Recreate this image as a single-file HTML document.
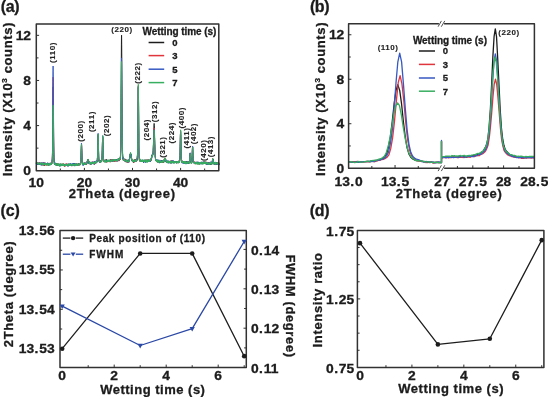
<!DOCTYPE html>
<html><head><meta charset="utf-8"><style>
html,body{margin:0;padding:0;background:#fff;width:548px;height:397px;overflow:hidden}
svg{display:block}
text{font-family:"Liberation Sans",sans-serif;font-weight:bold;stroke:#1b1b1b;stroke-width:0.3px}
</style></head><body>
<svg width="548" height="397" viewBox="0 0 548 397">
<defs><filter id="bl" x="0" y="0" width="100%" height="100%"><feGaussianBlur stdDeviation="0.45"/></filter></defs>
<rect width="548" height="397" fill="#fff"/>
<g filter="url(#bl)">
<rect width="548" height="397" fill="#fff"/>
<text x="0.70" y="12.30" font-size="16" letter-spacing="-0.33" text-anchor="start" fill="#1b1b1b">(a)</text>
<polyline points="36.3,163.4 36.4,162.8 36.5,164.0 36.6,162.9 36.7,163.7 36.8,163.7 36.9,162.4 37.0,163.4 37.1,163.6 37.2,163.1 37.3,162.9 37.4,163.6 37.5,163.2 37.6,164.1 37.6,163.8 37.7,163.8 37.8,164.3 37.9,164.4 38.0,164.5 38.1,163.7 38.2,163.7 38.3,163.8 38.4,163.6 38.5,164.4 38.6,163.7 38.7,163.5 38.8,163.2 38.9,164.1 39.0,163.9 39.1,164.8 39.2,164.0 39.3,164.9 39.4,164.5 39.5,163.1 39.6,164.9 39.7,163.3 39.8,163.5 39.9,163.9 40.0,163.5 40.1,163.4 40.1,163.1 40.2,163.9 40.3,164.1 40.4,164.1 40.5,164.3 40.6,163.8 40.7,164.2 40.8,163.2 40.9,164.8 41.0,164.4 41.1,164.3 41.2,165.0 41.3,162.7 41.4,165.2 41.5,164.0 41.6,164.1 41.7,162.9 41.8,165.0 41.9,163.2 42.0,164.3 42.1,164.0 42.2,164.2 42.3,163.5 42.4,164.5 42.5,163.9 42.6,163.7 42.6,162.9 42.7,165.3 42.8,163.1 42.9,163.4 43.0,164.2 43.1,163.8 43.2,164.2 43.3,163.0 43.4,163.8 43.5,164.1 43.6,164.1 43.7,164.1 43.8,164.1 43.9,164.5 44.0,162.8 44.1,165.1 44.2,166.0 44.3,164.1 44.4,164.1 44.5,163.8 44.6,164.1 44.7,164.1 44.8,163.8 44.9,163.5 45.0,164.3 45.1,164.3 45.2,163.0 45.2,163.8 45.3,164.6 45.4,162.8 45.5,163.6 45.6,164.4 45.7,164.8 45.8,163.9 45.9,164.6 46.0,164.7 46.1,164.8 46.2,164.4 46.3,163.5 46.4,164.4 46.5,164.9 46.6,163.8 46.7,164.1 46.8,163.7 46.9,163.5 47.0,164.2 47.1,164.2 47.2,164.2 47.3,164.8 47.4,163.8 47.5,163.4 47.6,164.1 47.7,164.3 47.7,164.3 47.8,164.6 47.9,164.6 48.0,164.4 48.1,164.7 48.2,164.4 48.3,165.1 48.4,164.0 48.5,164.2 48.6,164.8 48.7,165.5 48.8,164.2 48.9,163.6 49.0,164.6 49.1,164.5 49.2,164.5 49.3,163.8 49.4,164.7 49.5,163.6 49.6,164.3 49.7,163.6 49.8,164.1 49.9,164.3 50.0,165.0 50.1,164.5 50.2,164.3 50.2,163.7 50.3,163.9 50.4,164.4 50.5,163.8 50.6,163.4 50.7,164.1 50.8,164.2 50.9,164.1 51.0,163.4 51.1,163.5 51.2,164.3 51.3,163.5 51.4,163.9 51.5,163.9 51.6,162.7 51.7,162.8 51.8,163.5 51.9,162.8 52.0,162.2 52.1,162.3 52.2,161.2 52.3,159.3 52.4,158.1 52.5,152.7 52.6,146.0 52.7,137.1 52.8,126.7 52.8,112.7 52.9,100.8 53.0,90.5 53.1,86.9 53.2,90.7 53.3,100.8 53.4,113.3 53.5,125.5 53.6,137.9 53.7,146.2 53.8,152.7 53.9,157.3 54.0,158.4 54.1,161.2 54.2,160.9 54.3,163.8 54.4,164.2 54.5,162.7 54.6,163.1 54.7,163.7 54.8,163.7 54.9,164.9 55.0,164.3 55.1,164.6 55.2,164.2 55.3,163.6 55.3,164.1 55.4,164.0 55.5,164.7 55.6,164.6 55.7,164.3 55.8,164.5 55.9,163.7 56.0,164.9 56.1,163.4 56.2,165.1 56.3,163.9 56.4,165.0 56.5,163.6 56.6,164.5 56.7,164.4 56.8,164.2 56.9,165.0 57.0,165.2 57.1,165.8 57.2,164.0 57.3,165.1 57.4,165.0 57.5,164.7 57.6,163.6 57.7,165.7 57.8,164.6 57.8,165.0 57.9,164.5 58.0,165.8 58.1,165.0 58.2,164.3 58.3,163.9 58.4,163.9 58.5,165.3 58.6,164.8 58.7,164.9 58.8,165.7 58.9,165.7 59.0,164.5 59.1,164.8 59.2,165.0 59.3,164.2 59.4,165.5 59.5,164.6 59.6,164.9 59.7,165.0 59.8,164.7 59.9,164.9 60.0,164.8 60.1,164.8 60.2,163.9 60.3,165.2 60.3,164.4 60.4,164.7 60.5,165.2 60.6,164.6 60.7,165.5 60.8,164.3 60.9,165.5 61.0,165.3 61.1,164.8 61.2,164.5 61.3,164.5 61.4,164.5 61.5,165.1 61.6,165.5 61.7,164.7 61.8,164.8 61.9,165.5 62.0,164.4 62.1,164.9 62.2,165.5 62.3,164.7 62.4,165.7 62.5,165.5 62.6,164.7 62.7,165.9 62.8,165.0 62.9,165.7 62.9,164.6 63.0,165.4 63.1,164.9 63.2,165.8 63.3,165.2 63.4,164.4 63.5,164.7 63.6,166.0 63.7,164.4 63.8,164.5 63.9,165.2 64.0,164.2 64.1,165.5 64.2,165.0 64.3,164.3 64.4,164.2 64.5,164.2 64.6,165.6 64.7,165.9 64.8,164.7 64.9,165.7 65.0,165.0 65.1,165.7 65.2,164.3 65.3,164.5 65.4,164.6 65.4,164.9 65.5,164.9 65.6,165.1 65.7,164.7 65.8,164.8 65.9,164.7 66.0,165.2 66.1,163.8 66.2,164.7 66.3,164.1 66.4,164.2 66.5,165.4 66.6,165.8 66.7,164.2 66.8,165.1 66.9,164.8 67.0,165.0 67.1,164.8 67.2,165.6 67.3,164.9 67.4,165.1 67.5,164.9 67.6,166.2 67.7,164.4 67.8,164.7 67.9,165.9 67.9,165.3 68.0,164.9 68.1,164.5 68.2,164.9 68.3,164.1 68.4,164.9 68.5,165.4 68.6,165.2 68.7,164.4 68.8,165.2 68.9,164.4 69.0,164.3 69.1,164.5 69.2,164.3 69.3,164.9 69.4,164.8 69.5,165.2 69.6,165.2 69.7,165.7 69.8,165.1 69.9,165.4 70.0,165.6 70.1,164.7 70.2,164.6 70.3,165.0 70.4,164.0 70.5,164.3 70.5,164.2 70.6,165.2 70.7,165.7 70.8,164.5 70.9,164.6 71.0,164.4 71.1,164.6 71.2,164.1 71.3,165.0 71.4,164.4 71.5,165.3 71.6,166.1 71.7,165.0 71.8,163.9 71.9,165.7 72.0,164.2 72.1,165.2 72.2,165.0 72.3,164.7 72.4,164.6 72.5,165.3 72.6,164.7 72.7,164.5 72.8,164.3 72.9,165.2 73.0,163.9 73.0,163.7 73.1,163.4 73.2,165.5 73.3,164.6 73.4,165.8 73.5,164.5 73.6,164.4 73.7,165.4 73.8,165.6 73.9,164.6 74.0,164.4 74.1,165.2 74.2,164.9 74.3,166.1 74.4,165.1 74.5,164.6 74.6,164.6 74.7,163.8 74.8,165.3 74.9,166.0 75.0,164.4 75.1,165.0 75.2,164.5 75.3,164.3 75.4,164.3 75.5,163.9 75.5,163.9 75.6,165.6 75.7,164.7 75.8,163.5 75.9,164.9 76.0,164.1 76.1,164.7 76.2,164.9 76.3,163.8 76.4,164.1 76.5,164.8 76.6,164.1 76.7,165.4 76.8,165.0 76.9,164.1 77.0,164.6 77.1,165.2 77.2,164.4 77.3,164.4 77.4,163.9 77.5,164.1 77.6,164.8 77.7,164.9 77.8,164.7 77.9,164.7 78.0,163.8 78.1,163.7 78.1,163.8 78.2,164.4 78.3,164.7 78.4,164.0 78.5,164.7 78.6,164.4 78.7,165.5 78.8,164.8 78.9,163.7 79.0,165.1 79.1,165.3 79.2,164.6 79.3,163.5 79.4,163.6 79.5,164.6 79.6,164.7 79.7,164.4 79.8,164.9 79.9,164.3 80.0,164.4 80.1,165.0 80.2,164.5 80.3,164.2 80.4,164.5 80.5,164.5 80.6,163.1 80.6,162.1 80.7,162.7 80.8,161.7 80.9,159.5 81.0,157.7 81.1,155.0 81.2,150.5 81.3,148.7 81.4,146.1 81.5,145.1 81.6,146.1 81.7,148.2 81.8,150.9 81.9,153.7 82.0,157.0 82.1,159.7 82.2,162.0 82.3,162.4 82.4,163.5 82.5,163.4 82.6,163.0 82.7,163.6 82.8,163.9 82.9,164.2 83.0,163.9 83.1,163.8 83.1,164.4 83.2,164.2 83.3,163.4 83.4,164.9 83.5,164.2 83.6,164.6 83.7,163.0 83.8,163.6 83.9,163.6 84.0,163.7 84.1,163.7 84.2,163.7 84.3,164.8 84.4,163.7 84.5,163.5 84.6,164.7 84.7,163.4 84.8,163.5 84.9,164.7 85.0,164.1 85.1,164.0 85.2,164.1 85.3,163.6 85.4,164.5 85.5,163.9 85.6,163.6 85.7,163.3 85.7,163.7 85.8,163.8 85.9,163.3 86.0,164.8 86.1,163.1 86.2,163.7 86.3,164.2 86.4,163.7 86.5,164.4 86.6,164.5 86.7,163.4 86.8,163.5 86.9,162.5 87.0,163.2 87.1,163.1 87.2,162.7 87.3,160.9 87.4,161.5 87.5,161.5 87.6,161.4 87.7,161.2 87.8,160.4 87.9,159.8 88.0,159.3 88.1,159.3 88.2,159.9 88.2,160.6 88.3,160.9 88.4,162.0 88.5,161.6 88.6,161.1 88.7,161.8 88.8,161.7 88.9,162.9 89.0,161.9 89.1,162.4 89.2,162.7 89.3,162.6 89.4,164.2 89.5,163.3 89.6,163.6 89.7,162.1 89.8,163.2 89.9,163.4 90.0,162.7 90.1,163.8 90.2,162.4 90.3,163.6 90.4,163.2 90.5,163.7 90.6,162.7 90.7,164.4 90.7,162.7 90.8,163.6 90.9,163.1 91.0,163.7 91.1,163.0 91.2,163.0 91.3,162.7 91.4,162.9 91.5,162.7 91.6,162.5 91.7,163.2 91.8,163.7 91.9,163.7 92.0,162.6 92.1,163.2 92.2,162.4 92.3,162.9 92.4,163.5 92.5,162.4 92.6,161.8 92.7,163.0 92.8,163.4 92.9,163.4 93.0,162.4 93.1,163.2 93.2,163.1 93.3,162.4 93.3,162.8 93.4,162.7 93.5,163.1 93.6,163.1 93.7,162.7 93.8,162.7 93.9,162.4 94.0,163.0 94.1,162.5 94.2,162.4 94.3,162.6 94.4,162.3 94.5,162.1 94.6,162.5 94.7,162.5 94.8,163.1 94.9,162.4 95.0,162.6 95.1,162.7 95.2,163.0 95.3,162.2 95.4,161.0 95.5,162.2 95.6,162.4 95.7,162.1 95.8,162.7 95.8,162.3 95.9,162.7 96.0,162.6 96.1,162.1 96.2,162.1 96.3,162.2 96.4,162.5 96.5,161.9 96.6,162.6 96.7,161.5 96.8,162.0 96.9,161.7 97.0,161.1 97.1,161.0 97.2,161.6 97.3,160.3 97.4,158.7 97.5,157.7 97.6,155.6 97.7,150.6 97.8,146.2 97.9,141.2 98.0,137.3 98.1,134.8 98.2,134.7 98.3,136.5 98.3,141.1 98.4,145.7 98.5,150.7 98.6,153.5 98.7,157.0 98.8,158.3 98.9,161.1 99.0,160.4 99.1,161.0 99.2,161.4 99.3,160.6 99.4,161.2 99.5,161.5 99.6,161.8 99.7,160.5 99.8,161.1 99.9,161.2 100.0,162.0 100.1,160.8 100.2,161.2 100.3,161.7 100.4,161.6 100.5,162.4 100.6,161.1 100.7,162.1 100.8,161.0 100.9,161.7 100.9,161.8 101.0,161.2 101.1,161.2 101.2,161.9 101.3,161.2 101.4,160.8 101.5,161.1 101.6,161.6 101.7,160.7 101.8,160.6 101.9,159.6 102.0,157.8 102.1,155.8 102.2,153.0 102.3,150.1 102.4,144.9 102.5,141.1 102.6,138.2 102.7,136.7 102.8,136.9 102.9,141.7 103.0,145.9 103.1,148.7 103.2,153.2 103.3,154.9 103.4,158.3 103.4,159.3 103.5,159.4 103.6,159.8 103.7,160.3 103.8,160.5 103.9,160.9 104.0,161.1 104.1,161.1 104.2,160.3 104.3,160.6 104.4,161.0 104.5,160.9 104.6,160.6 104.7,160.4 104.8,161.1 104.9,161.1 105.0,160.9 105.1,159.6 105.2,160.9 105.3,160.4 105.4,161.9 105.5,160.6 105.6,161.8 105.7,161.7 105.8,161.4 105.9,161.1 105.9,160.9 106.0,160.8 106.1,160.9 106.2,161.2 106.3,159.5 106.4,160.8 106.5,160.6 106.6,159.8 106.7,160.4 106.8,160.6 106.9,160.7 107.0,159.9 107.1,161.5 107.2,161.4 107.3,160.8 107.4,162.0 107.5,161.3 107.6,160.2 107.7,161.1 107.8,160.7 107.9,160.4 108.0,161.4 108.1,160.6 108.2,161.1 108.3,161.3 108.4,160.9 108.4,160.7 108.5,160.9 108.6,161.1 108.7,160.2 108.8,160.0 108.9,160.4 109.0,160.7 109.1,161.3 109.2,161.1 109.3,161.3 109.4,160.5 109.5,160.1 109.6,160.1 109.7,160.7 109.8,160.9 109.9,160.5 110.0,160.6 110.1,160.3 110.2,159.8 110.3,161.0 110.4,159.4 110.5,161.8 110.6,161.6 110.7,161.4 110.8,161.2 110.9,160.7 111.0,159.4 111.0,161.0 111.1,160.0 111.2,160.8 111.3,160.5 111.4,161.1 111.5,159.3 111.6,160.6 111.7,160.9 111.8,159.3 111.9,160.4 112.0,160.3 112.1,160.6 112.2,161.0 112.3,161.3 112.4,160.6 112.5,159.6 112.6,160.3 112.7,160.6 112.8,159.9 112.9,161.0 113.0,159.7 113.1,160.5 113.2,160.9 113.3,160.1 113.4,160.2 113.5,160.6 113.5,160.3 113.6,159.9 113.7,159.6 113.8,160.9 113.9,161.9 114.0,159.3 114.1,160.5 114.2,160.6 114.3,160.1 114.4,160.6 114.5,159.8 114.6,161.1 114.7,160.5 114.8,161.0 114.9,159.5 115.0,160.5 115.1,159.7 115.2,159.5 115.3,161.0 115.4,160.4 115.5,159.9 115.6,160.2 115.7,160.3 115.8,159.8 115.9,159.7 116.0,160.6 116.0,160.3 116.1,159.8 116.2,160.1 116.3,160.1 116.4,160.8 116.5,159.2 116.6,160.3 116.7,160.0 116.8,160.1 116.9,160.1 117.0,160.0 117.1,160.5 117.2,159.8 117.3,159.4 117.4,159.8 117.5,159.6 117.6,159.7 117.7,159.9 117.8,158.9 117.9,160.3 118.0,159.7 118.1,159.3 118.2,159.7 118.3,160.4 118.4,160.4 118.5,158.9 118.6,160.3 118.6,159.7 118.7,159.3 118.8,159.5 118.9,160.5 119.0,160.6 119.1,159.5 119.2,159.8 119.3,159.4 119.4,159.1 119.5,159.0 119.6,159.7 119.7,159.8 119.8,158.1 119.9,158.8 120.0,158.9 120.1,159.1 120.2,157.3 120.3,157.8 120.4,157.0 120.5,154.9 120.6,153.2 120.7,150.1 120.8,146.3 120.9,139.9 121.0,128.5 121.1,114.4 121.1,97.7 121.2,78.0 121.3,59.7 121.4,45.0 121.5,35.1 121.6,35.5 121.7,44.7 121.8,59.3 121.9,79.5 122.0,96.8 122.1,113.7 122.2,129.2 122.3,138.5 122.4,145.8 122.5,151.2 122.6,153.9 122.7,155.9 122.8,156.5 122.9,157.6 123.0,159.0 123.1,157.5 123.2,158.0 123.3,159.2 123.4,158.4 123.5,158.0 123.6,160.1 123.6,159.6 123.7,159.8 123.8,159.3 123.9,159.8 124.0,160.5 124.1,159.1 124.2,160.1 124.3,159.5 124.4,158.8 124.5,160.5 124.6,160.4 124.7,159.7 124.8,160.4 124.9,160.1 125.0,160.4 125.1,158.9 125.2,160.2 125.3,160.4 125.4,160.6 125.5,160.5 125.6,161.7 125.7,161.0 125.8,160.4 125.9,161.6 126.0,160.9 126.1,161.0 126.2,161.3 126.2,159.7 126.3,160.7 126.4,161.0 126.5,161.6 126.6,161.2 126.7,161.4 126.8,161.3 126.9,161.2 127.0,159.9 127.1,160.6 127.2,160.5 127.3,160.7 127.4,159.9 127.5,161.9 127.6,162.3 127.7,161.5 127.8,161.4 127.9,161.5 128.0,161.9 128.1,161.1 128.2,160.5 128.3,161.3 128.4,161.5 128.5,160.7 128.6,161.5 128.7,161.4 128.7,160.9 128.8,162.3 128.9,159.8 129.0,160.7 129.1,160.1 129.2,160.0 129.3,159.6 129.4,160.2 129.5,158.0 129.6,158.2 129.7,157.9 129.8,155.7 129.9,157.7 130.0,156.0 130.1,155.9 130.2,156.2 130.3,153.8 130.4,155.4 130.5,154.2 130.6,154.3 130.7,154.2 130.8,155.0 130.9,154.0 131.0,155.1 131.1,156.4 131.2,156.9 131.2,156.6 131.3,158.0 131.4,157.6 131.5,158.2 131.6,159.1 131.7,160.3 131.8,160.3 131.9,159.7 132.0,160.4 132.1,159.3 132.2,160.7 132.3,160.4 132.4,160.3 132.5,160.7 132.6,160.6 132.7,160.3 132.8,161.0 132.9,160.7 133.0,161.1 133.1,159.8 133.2,160.8 133.3,160.5 133.4,162.6 133.5,161.2 133.6,161.6 133.7,160.9 133.8,161.2 133.8,161.5 133.9,161.1 134.0,160.5 134.1,160.3 134.2,161.2 134.3,160.3 134.4,161.3 134.5,160.5 134.6,161.4 134.7,160.3 134.8,159.6 134.9,161.0 135.0,160.2 135.1,161.7 135.2,161.2 135.3,159.3 135.4,160.8 135.5,160.5 135.6,161.7 135.7,160.7 135.8,161.1 135.9,160.0 136.0,160.9 136.1,159.2 136.2,161.2 136.3,160.3 136.3,161.6 136.4,160.6 136.5,159.6 136.6,160.2 136.7,160.8 136.8,159.6 136.9,159.2 137.0,159.2 137.1,158.6 137.2,159.5 137.3,156.8 137.4,156.0 137.5,155.2 137.6,148.9 137.7,144.1 137.8,134.9 137.9,125.3 138.0,112.1 138.1,100.7 138.2,90.2 138.3,87.3 138.4,91.2 138.5,99.9 138.6,111.1 138.7,124.6 138.8,134.8 138.8,144.4 138.9,150.9 139.0,154.2 139.1,156.6 139.2,157.7 139.3,158.1 139.4,159.4 139.5,159.7 139.6,159.3 139.7,159.6 139.8,160.0 139.9,160.0 140.0,161.4 140.1,160.6 140.2,161.3 140.3,160.6 140.4,160.0 140.5,161.5 140.6,160.0 140.7,160.9 140.8,160.8 140.9,160.9 141.0,160.3 141.1,161.1 141.2,161.9 141.3,160.6 141.4,160.8 141.4,160.4 141.5,160.5 141.6,161.5 141.7,160.7 141.8,160.8 141.9,160.9 142.0,160.8 142.1,160.7 142.2,161.2 142.3,160.9 142.4,160.3 142.5,161.5 142.6,160.9 142.7,161.5 142.8,161.5 142.9,161.1 143.0,160.8 143.1,160.0 143.2,161.0 143.3,160.4 143.4,160.6 143.5,160.9 143.6,162.6 143.7,160.8 143.8,160.9 143.9,161.5 143.9,160.8 144.0,160.1 144.1,161.6 144.2,161.2 144.3,160.4 144.4,161.9 144.5,161.5 144.6,160.7 144.7,160.4 144.8,160.2 144.9,160.5 145.0,159.6 145.1,160.7 145.2,161.6 145.3,161.0 145.4,160.5 145.5,160.7 145.6,162.0 145.7,160.7 145.8,161.3 145.9,161.0 146.0,160.1 146.1,161.0 146.2,161.3 146.3,160.9 146.4,161.2 146.4,159.7 146.5,160.4 146.6,160.3 146.7,161.2 146.8,161.2 146.9,160.7 147.0,162.1 147.1,160.3 147.2,161.6 147.3,160.8 147.4,160.7 147.5,161.3 147.6,160.7 147.7,160.5 147.8,159.8 147.9,160.6 148.0,159.8 148.1,160.6 148.2,161.0 148.3,160.4 148.4,161.1 148.5,160.8 148.6,160.5 148.7,160.2 148.8,160.7 148.9,161.7 149.0,160.1 149.0,160.7 149.1,161.0 149.2,161.3 149.3,160.5 149.4,160.6 149.5,160.4 149.6,160.8 149.7,159.9 149.8,160.8 149.9,160.4 150.0,160.5 150.1,160.0 150.2,160.9 150.3,160.6 150.4,160.5 150.5,160.6 150.6,160.5 150.7,160.7 150.8,159.4 150.9,158.8 151.0,160.0 151.1,158.8 151.2,159.7 151.3,159.2 151.4,158.7 151.5,158.1 151.5,157.6 151.6,158.6 151.7,158.0 151.8,156.9 151.9,156.8 152.0,155.1 152.1,156.2 152.2,156.2 152.3,154.9 152.4,156.9 152.5,156.2 152.6,153.4 152.7,154.9 152.8,154.1 152.9,153.6 153.0,153.1 153.1,151.4 153.2,150.4 153.3,147.0 153.4,144.5 153.5,141.5 153.6,138.9 153.7,135.9 153.8,131.4 153.9,128.4 154.0,124.9 154.0,124.3 154.1,123.4 154.2,123.6 154.3,125.5 154.4,128.7 154.5,133.1 154.6,136.8 154.7,139.2 154.8,143.6 154.9,148.0 155.0,149.4 155.1,153.0 155.2,154.9 155.3,156.9 155.4,156.8 155.5,158.4 155.6,159.1 155.7,160.1 155.8,160.6 155.9,160.0 156.0,160.3 156.1,159.5 156.2,161.0 156.3,160.8 156.4,160.1 156.5,160.3 156.5,161.2 156.6,160.0 156.7,160.6 156.8,160.4 156.9,160.8 157.0,160.4 157.1,161.3 157.2,161.2 157.3,160.5 157.4,160.9 157.5,160.9 157.6,160.5 157.7,161.0 157.8,161.0 157.9,162.5 158.0,161.5 158.1,160.8 158.2,161.8 158.3,161.4 158.4,161.2 158.5,161.4 158.6,160.8 158.7,161.1 158.8,161.4 158.9,160.7 159.0,161.6 159.1,161.8 159.1,161.2 159.2,161.0 159.3,161.5 159.4,162.0 159.5,161.7 159.6,161.3 159.7,161.1 159.8,160.5 159.9,161.6 160.0,161.6 160.1,162.7 160.2,160.8 160.3,161.0 160.4,161.5 160.5,161.9 160.6,163.0 160.7,161.1 160.8,162.0 160.9,160.7 161.0,161.1 161.1,160.8 161.2,161.6 161.3,160.9 161.4,162.4 161.5,160.7 161.6,161.6 161.6,162.2 161.7,161.8 161.8,162.1 161.9,161.4 162.0,162.0 162.1,162.3 162.2,161.8 162.3,161.7 162.4,161.5 162.5,161.2 162.6,160.9 162.7,161.4 162.8,160.7 162.9,163.0 163.0,161.6 163.1,161.1 163.2,162.3 163.3,161.7 163.4,161.4 163.5,162.4 163.6,161.8 163.7,161.0 163.8,161.4 163.9,160.3 164.0,159.7 164.1,160.9 164.1,161.3 164.2,160.4 164.3,160.5 164.4,160.7 164.5,159.9 164.6,159.7 164.7,159.5 164.8,158.6 164.9,158.5 165.0,158.8 165.1,159.3 165.2,159.0 165.3,159.5 165.4,159.6 165.5,160.5 165.6,161.9 165.7,160.0 165.8,161.0 165.9,161.2 166.0,161.1 166.1,161.3 166.2,161.6 166.3,160.6 166.4,161.5 166.5,161.5 166.6,162.2 166.7,161.8 166.7,161.5 166.8,161.8 166.9,161.6 167.0,162.4 167.1,161.6 167.2,162.4 167.3,162.1 167.4,162.3 167.5,161.8 167.6,161.3 167.7,161.7 167.8,162.4 167.9,161.8 168.0,161.3 168.1,161.5 168.2,161.7 168.3,162.6 168.4,162.3 168.5,162.3 168.6,162.2 168.7,161.9 168.8,162.0 168.9,162.2 169.0,161.7 169.1,162.4 169.2,162.2 169.2,162.0 169.3,162.8 169.4,162.5 169.5,162.8 169.6,162.6 169.7,162.1 169.8,162.1 169.9,161.9 170.0,161.9 170.1,162.7 170.2,161.0 170.3,161.3 170.4,162.8 170.5,162.5 170.6,162.4 170.7,162.0 170.8,161.8 170.9,162.1 171.0,163.5 171.1,160.5 171.2,161.6 171.3,161.7 171.4,162.5 171.5,162.1 171.6,161.6 171.7,162.4 171.7,161.5 171.8,162.1 171.9,161.3 172.0,162.1 172.1,161.3 172.2,163.0 172.3,161.3 172.4,161.9 172.5,162.4 172.6,161.6 172.7,162.3 172.8,161.7 172.9,161.6 173.0,161.6 173.1,160.9 173.2,161.4 173.3,160.8 173.4,161.8 173.5,162.1 173.6,162.0 173.7,162.2 173.8,162.9 173.9,162.1 174.0,162.9 174.1,162.4 174.2,162.4 174.3,162.5 174.3,162.8 174.4,162.2 174.5,162.2 174.6,161.4 174.7,161.9 174.8,161.7 174.9,162.5 175.0,162.4 175.1,162.9 175.2,162.7 175.3,161.8 175.4,162.3 175.5,162.3 175.6,162.6 175.7,161.4 175.8,162.3 175.9,161.6 176.0,162.3 176.1,161.7 176.2,162.8 176.3,163.0 176.4,161.6 176.5,162.4 176.6,162.1 176.7,161.8 176.8,161.9 176.8,162.1 176.9,162.9 177.0,162.6 177.1,162.2 177.2,161.9 177.3,162.0 177.4,162.0 177.5,162.7 177.6,162.2 177.7,161.7 177.8,162.7 177.9,162.5 178.0,161.7 178.1,161.3 178.2,162.0 178.3,162.2 178.4,162.7 178.5,162.2 178.6,162.6 178.7,162.0 178.8,161.7 178.9,161.8 179.0,161.3 179.1,162.5 179.2,162.6 179.3,161.1 179.3,161.1 179.4,162.1 179.5,161.3 179.6,161.6 179.7,160.5 179.8,159.2 179.9,157.2 180.0,155.7 180.1,152.2 180.2,146.5 180.3,141.8 180.4,135.7 180.5,133.3 180.6,131.6 180.7,134.2 180.8,135.9 180.9,140.9 181.0,146.6 181.1,151.7 181.2,156.3 181.3,158.5 181.4,159.8 181.5,159.4 181.6,160.6 181.7,161.8 181.8,161.4 181.9,161.5 181.9,161.6 182.0,162.5 182.1,162.3 182.2,161.5 182.3,161.8 182.4,162.4 182.5,160.9 182.6,162.1 182.7,162.5 182.8,161.8 182.9,161.9 183.0,162.4 183.1,161.3 183.2,161.8 183.3,162.4 183.4,162.0 183.5,162.0 183.6,162.6 183.7,162.0 183.8,162.7 183.9,162.6 184.0,162.1 184.1,163.2 184.2,162.7 184.3,163.0 184.4,162.1 184.4,162.8 184.5,161.5 184.6,161.7 184.7,162.9 184.8,162.4 184.9,162.7 185.0,162.5 185.1,162.2 185.2,161.7 185.3,161.3 185.4,161.5 185.5,163.3 185.6,162.8 185.7,162.7 185.8,162.7 185.9,162.5 186.0,162.2 186.1,162.8 186.2,162.9 186.3,161.3 186.4,162.2 186.5,161.4 186.6,162.9 186.7,161.8 186.8,161.7 186.9,161.9 186.9,163.0 187.0,162.3 187.1,163.0 187.2,163.2 187.3,162.6 187.4,162.3 187.5,162.7 187.6,162.7 187.7,162.3 187.8,163.0 187.9,162.4 188.0,162.2 188.1,162.2 188.2,162.3 188.3,163.1 188.4,162.7 188.5,162.8 188.6,162.2 188.7,163.5 188.8,162.5 188.9,163.4 189.0,162.1 189.1,162.7 189.2,162.3 189.3,161.7 189.4,161.1 189.5,162.3 189.5,161.1 189.6,161.5 189.7,159.4 189.8,158.2 189.9,155.8 190.0,154.6 190.1,153.3 190.2,153.5 190.3,153.5 190.4,155.1 190.5,156.1 190.6,158.6 190.7,159.1 190.8,159.7 190.9,159.7 191.0,160.8 191.1,161.2 191.2,161.7 191.3,161.3 191.4,162.2 191.5,162.0 191.6,163.2 191.7,162.2 191.8,161.0 191.9,162.1 192.0,160.2 192.0,159.1 192.1,157.4 192.2,154.7 192.3,152.2 192.4,150.2 192.5,147.7 192.6,147.9 192.7,146.8 192.8,149.7 192.9,151.7 193.0,155.4 193.1,156.2 193.2,158.6 193.3,160.3 193.4,161.2 193.5,161.6 193.6,162.6 193.7,162.4 193.8,162.6 193.9,162.3 194.0,161.7 194.1,162.0 194.2,162.5 194.3,162.3 194.4,162.9 194.5,163.0 194.5,163.7 194.6,163.5 194.7,163.5 194.8,162.9 194.9,162.9 195.0,162.6 195.1,162.2 195.2,162.5 195.3,163.0 195.4,163.2 195.5,163.1 195.6,162.6 195.7,163.4 195.8,163.8 195.9,163.1 196.0,162.3 196.1,162.3 196.2,162.6 196.3,164.0 196.4,163.0 196.5,162.6 196.6,162.4 196.7,161.9 196.8,163.5 196.9,162.8 197.0,163.9 197.1,163.1 197.1,163.2 197.2,162.5 197.3,162.9 197.4,164.0 197.5,163.1 197.6,162.8 197.7,162.2 197.8,163.4 197.9,163.5 198.0,163.4 198.1,162.5 198.2,163.2 198.3,163.0 198.4,162.8 198.5,163.5 198.6,162.5 198.7,164.0 198.8,162.1 198.9,163.5 199.0,163.6 199.1,163.5 199.2,163.7 199.3,163.6 199.4,163.5 199.5,163.8 199.6,163.2 199.6,162.9 199.7,163.4 199.8,163.0 199.9,163.6 200.0,163.0 200.1,163.3 200.2,163.7 200.3,163.1 200.4,163.2 200.5,163.5 200.6,163.2 200.7,162.9 200.8,163.8 200.9,163.4 201.0,162.8 201.1,163.2 201.2,162.7 201.3,161.8 201.4,163.9 201.5,163.0 201.6,163.4 201.7,162.4 201.8,162.9 201.9,164.0 202.0,162.6 202.1,163.2 202.1,163.4 202.2,163.2 202.3,163.1 202.4,163.7 202.5,163.4 202.6,162.4 202.7,163.8 202.8,163.5 202.9,162.8 203.0,163.7 203.1,163.3 203.2,163.0 203.3,163.6 203.4,163.3 203.5,163.6 203.6,163.1 203.7,162.8 203.8,162.9 203.9,162.7 204.0,162.5 204.1,162.2 204.2,163.2 204.3,162.4 204.4,161.6 204.5,162.5 204.6,162.5 204.7,162.3 204.7,162.8 204.8,162.1 204.9,162.5 205.0,162.6 205.1,162.2 205.2,162.0 205.3,163.6 205.4,163.2 205.5,163.1 205.6,163.8 205.7,162.7 205.8,162.0 205.9,162.7 206.0,162.5 206.1,164.4 206.2,163.5 206.3,164.0 206.4,162.9 206.5,163.4 206.6,163.4 206.7,163.1 206.8,162.9 206.9,162.4 207.0,162.6 207.1,162.8 207.2,164.3 207.2,162.7 207.3,163.3 207.4,164.2 207.5,163.3 207.6,163.5 207.7,163.5 207.8,162.9 207.9,164.2 208.0,163.0 208.1,162.7 208.2,164.1 208.3,162.6 208.4,163.8 208.5,163.8 208.6,162.9 208.7,163.4 208.8,164.5 208.9,163.8 209.0,163.1 209.1,163.7 209.2,163.7 209.3,163.4 209.4,163.5 209.5,163.8 209.6,164.0 209.7,163.2 209.7,162.8 209.8,164.9 209.9,163.2 210.0,162.9 210.1,164.0 210.2,162.7 210.3,164.3 210.4,162.9 210.5,162.5 210.6,162.6 210.7,165.0 210.8,163.4 210.9,164.0 211.0,163.2 211.1,162.7 211.2,163.2 211.3,162.5 211.4,164.4 211.5,163.9 211.6,163.7 211.7,162.9 211.8,162.6 211.9,163.6 212.0,163.5 212.1,162.2 212.2,163.1 212.2,161.7 212.3,161.9 212.4,161.0 212.5,159.2 212.6,160.0 212.7,159.5 212.8,159.9 212.9,159.2 213.0,159.0 213.1,160.0 213.2,161.7 213.3,161.3 213.4,161.1 213.5,163.0 213.6,162.8 213.7,163.5 213.8,163.5 213.9,163.9 214.0,164.1 214.1,163.2 214.2,163.5 214.3,164.7 214.4,164.1 214.5,163.9 214.6,164.1 214.7,163.4 214.8,163.7 214.8,163.3 214.9,164.3 215.0,164.0 215.1,163.8 215.2,163.8 215.3,163.8 215.4,164.0 215.5,163.7 215.6,162.7 215.7,164.0 215.8,164.5 215.9,163.4 216.0,164.1 216.1,163.2 216.2,163.0 216.3,162.7 216.4,163.5 216.5,164.6 216.6,162.7 216.7,163.1 216.8,162.9 216.9,163.6 217.0,163.8 217.1,163.6 217.2,164.7 217.3,163.1 217.3,164.0 217.4,164.0 217.5,163.5 217.6,164.1 217.7,163.2 217.8,164.0 217.9,162.3 218.0,163.0 218.1,163.3 218.2,163.5 218.3,163.6 218.4,164.0 218.5,164.8 218.6,164.0 218.7,164.1 218.8,164.0 218.9,163.6 219.0,164.7 219.1,164.6" fill="none" stroke="#1e1e1e" stroke-width="0.95" stroke-linejoin="round"/>
<polyline points="36.3,163.9 36.4,163.7 36.5,163.0 36.6,162.0 36.7,163.6 36.8,163.1 36.9,163.5 37.0,163.4 37.1,162.5 37.2,163.4 37.3,163.2 37.4,163.5 37.5,163.9 37.6,163.0 37.6,163.7 37.7,162.7 37.8,164.2 37.9,163.3 38.0,162.6 38.1,164.0 38.2,163.4 38.3,162.8 38.4,163.4 38.5,164.1 38.6,163.8 38.7,163.5 38.8,164.0 38.9,163.9 39.0,163.6 39.1,164.4 39.2,162.7 39.3,164.0 39.4,163.7 39.5,163.6 39.6,162.9 39.7,163.9 39.8,162.5 39.9,162.7 40.0,163.3 40.1,164.5 40.1,164.5 40.2,163.9 40.3,163.6 40.4,163.4 40.5,163.1 40.6,163.5 40.7,163.7 40.8,163.5 40.9,164.9 41.0,163.1 41.1,164.6 41.2,164.9 41.3,164.2 41.4,164.0 41.5,164.5 41.6,163.9 41.7,163.8 41.8,163.5 41.9,163.6 42.0,164.1 42.1,163.8 42.2,163.1 42.3,164.0 42.4,164.0 42.5,165.1 42.6,163.7 42.6,162.7 42.7,163.5 42.8,164.0 42.9,163.2 43.0,163.2 43.1,163.2 43.2,164.6 43.3,164.6 43.4,163.5 43.5,163.6 43.6,163.7 43.7,164.8 43.8,163.5 43.9,162.9 44.0,163.3 44.1,162.5 44.2,163.7 44.3,163.9 44.4,163.0 44.5,163.4 44.6,165.3 44.7,164.9 44.8,163.9 44.9,164.3 45.0,163.0 45.1,163.1 45.2,163.3 45.2,164.2 45.3,164.2 45.4,163.6 45.5,164.3 45.6,163.7 45.7,163.9 45.8,163.6 45.9,164.0 46.0,164.5 46.1,165.7 46.2,164.9 46.3,164.9 46.4,163.7 46.5,164.9 46.6,164.4 46.7,163.8 46.8,163.7 46.9,163.5 47.0,163.9 47.1,163.3 47.2,164.5 47.3,163.5 47.4,164.9 47.5,164.4 47.6,163.9 47.7,163.8 47.7,164.3 47.8,164.5 47.9,164.9 48.0,165.5 48.1,165.3 48.2,163.2 48.3,165.2 48.4,165.1 48.5,165.1 48.6,164.3 48.7,164.3 48.8,164.5 48.9,164.9 49.0,164.2 49.1,165.0 49.2,164.0 49.3,163.3 49.4,164.7 49.5,164.0 49.6,164.4 49.7,164.4 49.8,164.9 49.9,164.1 50.0,164.1 50.1,163.4 50.2,162.7 50.2,164.7 50.3,163.4 50.4,164.5 50.5,164.3 50.6,164.6 50.7,163.6 50.8,163.2 50.9,163.9 51.0,163.7 51.1,164.2 51.2,163.8 51.3,164.3 51.4,163.5 51.5,164.5 51.6,161.9 51.7,162.4 51.8,163.2 51.9,162.9 52.0,162.5 52.1,161.6 52.2,160.5 52.3,157.9 52.4,156.4 52.5,152.4 52.6,143.9 52.7,133.6 52.8,121.3 52.8,105.7 52.9,92.0 53.0,81.6 53.1,77.1 53.2,81.9 53.3,92.1 53.4,105.2 53.5,120.2 53.6,133.5 53.7,144.0 53.8,151.3 53.9,156.9 54.0,159.0 54.1,161.2 54.2,162.1 54.3,161.5 54.4,163.2 54.5,163.0 54.6,163.2 54.7,162.9 54.8,163.7 54.9,163.4 55.0,163.6 55.1,164.0 55.2,164.3 55.3,164.6 55.3,163.5 55.4,164.7 55.5,163.6 55.6,163.3 55.7,164.6 55.8,164.9 55.9,164.9 56.0,164.7 56.1,163.7 56.2,164.9 56.3,165.1 56.4,165.5 56.5,164.5 56.6,164.3 56.7,163.7 56.8,164.4 56.9,164.6 57.0,164.7 57.1,163.0 57.2,163.8 57.3,164.2 57.4,164.9 57.5,164.8 57.6,164.8 57.7,164.8 57.8,164.5 57.8,165.1 57.9,163.7 58.0,165.3 58.1,164.4 58.2,164.4 58.3,164.3 58.4,164.0 58.5,164.7 58.6,164.7 58.7,164.0 58.8,164.1 58.9,164.9 59.0,164.4 59.1,165.6 59.2,164.7 59.3,166.1 59.4,164.2 59.5,165.3 59.6,164.4 59.7,164.7 59.8,165.3 59.9,164.5 60.0,164.0 60.1,165.5 60.2,163.9 60.3,164.8 60.3,165.5 60.4,165.1 60.5,164.8 60.6,164.6 60.7,165.4 60.8,165.2 60.9,164.7 61.0,164.8 61.1,163.9 61.2,164.5 61.3,164.5 61.4,165.5 61.5,165.5 61.6,165.6 61.7,165.0 61.8,164.6 61.9,164.0 62.0,164.4 62.1,165.4 62.2,165.0 62.3,163.7 62.4,164.9 62.5,164.6 62.6,165.7 62.7,165.7 62.8,165.2 62.9,165.1 62.9,164.6 63.0,165.0 63.1,165.9 63.2,163.6 63.3,164.7 63.4,165.9 63.5,164.0 63.6,164.4 63.7,165.0 63.8,164.9 63.9,164.6 64.0,166.2 64.1,164.4 64.2,164.8 64.3,164.5 64.4,165.2 64.5,165.3 64.6,164.0 64.7,166.8 64.8,164.2 64.9,164.2 65.0,165.8 65.1,165.0 65.2,165.3 65.3,165.2 65.4,165.6 65.4,165.6 65.5,164.8 65.6,165.0 65.7,164.6 65.8,164.5 65.9,165.2 66.0,163.7 66.1,164.0 66.2,165.7 66.3,165.0 66.4,165.1 66.5,164.6 66.6,165.4 66.7,164.0 66.8,165.1 66.9,163.7 67.0,165.3 67.1,163.8 67.2,164.6 67.3,164.3 67.4,164.7 67.5,164.6 67.6,165.4 67.7,165.0 67.8,165.3 67.9,165.0 67.9,165.1 68.0,164.4 68.1,164.7 68.2,165.0 68.3,165.8 68.4,164.3 68.5,165.3 68.6,165.1 68.7,164.6 68.8,164.9 68.9,164.8 69.0,164.8 69.1,165.9 69.2,164.4 69.3,164.9 69.4,164.4 69.5,164.8 69.6,165.1 69.7,164.0 69.8,164.7 69.9,164.2 70.0,164.5 70.1,164.4 70.2,164.2 70.3,164.5 70.4,165.3 70.5,164.9 70.5,164.0 70.6,164.9 70.7,165.0 70.8,164.8 70.9,164.3 71.0,165.3 71.1,164.8 71.2,165.0 71.3,165.2 71.4,164.4 71.5,165.1 71.6,164.7 71.7,164.6 71.8,164.5 71.9,164.5 72.0,164.3 72.1,165.2 72.2,166.1 72.3,164.3 72.4,163.8 72.5,165.0 72.6,164.7 72.7,164.3 72.8,165.2 72.9,164.8 73.0,165.0 73.0,164.4 73.1,164.7 73.2,163.8 73.3,165.2 73.4,165.1 73.5,165.5 73.6,164.6 73.7,164.8 73.8,164.8 73.9,164.4 74.0,165.2 74.1,165.5 74.2,163.5 74.3,164.7 74.4,165.2 74.5,164.1 74.6,164.6 74.7,165.2 74.8,164.5 74.9,164.1 75.0,164.3 75.1,164.7 75.2,163.7 75.3,165.2 75.4,164.8 75.5,164.4 75.5,165.2 75.6,164.3 75.7,164.4 75.8,164.1 75.9,164.5 76.0,163.5 76.1,165.4 76.2,164.8 76.3,164.9 76.4,164.6 76.5,164.3 76.6,165.2 76.7,164.1 76.8,164.0 76.9,164.5 77.0,165.4 77.1,164.3 77.2,164.4 77.3,165.1 77.4,165.0 77.5,164.9 77.6,165.4 77.7,164.4 77.8,164.0 77.9,164.4 78.0,164.9 78.1,164.6 78.1,164.6 78.2,163.5 78.3,164.8 78.4,164.3 78.5,164.7 78.6,163.9 78.7,165.0 78.8,164.2 78.9,164.7 79.0,164.1 79.1,165.3 79.2,164.5 79.3,163.8 79.4,164.0 79.5,165.0 79.6,163.0 79.7,164.1 79.8,164.5 79.9,164.5 80.0,164.8 80.1,163.3 80.2,163.4 80.3,163.3 80.4,164.5 80.5,164.9 80.6,164.8 80.6,164.0 80.7,162.8 80.8,162.1 80.9,160.7 81.0,157.2 81.1,155.0 81.2,151.1 81.3,147.4 81.4,146.1 81.5,145.0 81.6,144.9 81.7,148.9 81.8,151.5 81.9,155.1 82.0,157.5 82.1,160.0 82.2,161.2 82.3,162.6 82.4,162.3 82.5,163.8 82.6,163.6 82.7,163.3 82.8,164.3 82.9,164.2 83.0,163.9 83.1,164.1 83.1,163.5 83.2,164.3 83.3,164.8 83.4,163.6 83.5,164.4 83.6,164.3 83.7,164.1 83.8,163.3 83.9,163.5 84.0,163.8 84.1,163.8 84.2,164.1 84.3,162.9 84.4,163.3 84.5,164.4 84.6,163.4 84.7,164.6 84.8,164.3 84.9,164.2 85.0,162.9 85.1,162.7 85.2,163.8 85.3,164.1 85.4,163.0 85.5,164.1 85.6,162.8 85.7,164.3 85.7,163.2 85.8,164.1 85.9,162.7 86.0,163.6 86.1,164.0 86.2,163.5 86.3,164.8 86.4,163.4 86.5,163.0 86.6,161.9 86.7,163.7 86.8,162.3 86.9,162.0 87.0,162.1 87.1,162.4 87.2,161.8 87.3,162.0 87.4,161.0 87.5,161.4 87.6,160.7 87.7,160.0 87.8,160.3 87.9,160.3 88.0,159.5 88.1,159.2 88.2,159.1 88.2,159.5 88.3,159.0 88.4,160.3 88.5,159.9 88.6,161.6 88.7,161.0 88.8,161.3 88.9,160.9 89.0,162.6 89.1,161.4 89.2,162.7 89.3,163.0 89.4,163.8 89.5,162.5 89.6,163.3 89.7,162.6 89.8,163.0 89.9,162.7 90.0,163.1 90.1,163.5 90.2,163.4 90.3,163.1 90.4,162.9 90.5,163.6 90.6,162.6 90.7,164.3 90.7,163.8 90.8,162.7 90.9,162.9 91.0,161.9 91.1,162.5 91.2,163.6 91.3,163.7 91.4,163.0 91.5,163.1 91.6,162.6 91.7,163.3 91.8,163.4 91.9,163.4 92.0,163.0 92.1,163.4 92.2,163.0 92.3,162.5 92.4,163.0 92.5,163.5 92.6,162.6 92.7,162.5 92.8,163.4 92.9,163.1 93.0,163.8 93.1,163.4 93.2,163.5 93.3,163.6 93.3,163.2 93.4,161.7 93.5,162.1 93.6,163.0 93.7,162.5 93.8,162.7 93.9,162.7 94.0,163.8 94.1,162.8 94.2,163.3 94.3,162.9 94.4,162.7 94.5,164.7 94.6,164.1 94.7,162.4 94.8,161.8 94.9,162.1 95.0,163.2 95.1,162.8 95.2,162.2 95.3,162.6 95.4,163.7 95.5,162.0 95.6,162.8 95.7,162.4 95.8,163.4 95.8,163.0 95.9,161.6 96.0,162.5 96.1,162.0 96.2,161.3 96.3,162.1 96.4,162.1 96.5,162.2 96.6,161.5 96.7,161.7 96.8,161.6 96.9,160.8 97.0,161.2 97.1,160.6 97.2,161.3 97.3,160.3 97.4,158.5 97.5,157.4 97.6,155.0 97.7,150.4 97.8,146.1 97.9,140.8 98.0,135.9 98.1,134.6 98.2,135.0 98.3,137.0 98.3,141.3 98.4,146.0 98.5,149.6 98.6,153.6 98.7,156.5 98.8,158.8 98.9,159.3 99.0,160.6 99.1,160.0 99.2,161.2 99.3,161.4 99.4,161.0 99.5,160.2 99.6,162.5 99.7,161.3 99.8,162.2 99.9,162.5 100.0,161.8 100.1,161.1 100.2,162.5 100.3,161.8 100.4,160.5 100.5,160.8 100.6,161.7 100.7,161.1 100.8,161.4 100.9,161.8 100.9,161.9 101.0,160.7 101.1,161.7 101.2,161.4 101.3,161.5 101.4,162.0 101.5,161.1 101.6,159.8 101.7,161.2 101.8,160.1 101.9,158.6 102.0,157.6 102.1,155.8 102.2,152.6 102.3,149.1 102.4,145.1 102.5,141.5 102.6,138.2 102.7,137.8 102.8,137.9 102.9,141.1 103.0,145.4 103.1,150.1 103.2,153.1 103.3,156.7 103.4,157.4 103.4,159.8 103.5,159.4 103.6,160.8 103.7,160.2 103.8,160.4 103.9,160.4 104.0,161.1 104.1,162.1 104.2,160.8 104.3,161.4 104.4,161.9 104.5,161.7 104.6,160.9 104.7,160.7 104.8,160.9 104.9,160.7 105.0,160.5 105.1,161.3 105.2,161.1 105.3,161.2 105.4,161.3 105.5,161.2 105.6,161.0 105.7,161.4 105.8,161.0 105.9,160.5 105.9,161.2 106.0,160.7 106.1,161.5 106.2,161.5 106.3,160.0 106.4,161.1 106.5,160.3 106.6,162.1 106.7,162.3 106.8,161.0 106.9,161.1 107.0,162.3 107.1,160.5 107.2,160.5 107.3,161.3 107.4,160.5 107.5,160.5 107.6,160.8 107.7,161.2 107.8,160.5 107.9,161.1 108.0,161.1 108.1,161.6 108.2,160.7 108.3,160.1 108.4,161.0 108.4,161.0 108.5,161.5 108.6,160.9 108.7,160.3 108.8,160.8 108.9,160.4 109.0,160.1 109.1,161.2 109.2,161.1 109.3,160.4 109.4,160.9 109.5,161.3 109.6,160.7 109.7,160.5 109.8,160.1 109.9,161.2 110.0,160.5 110.1,160.4 110.2,162.3 110.3,160.2 110.4,160.7 110.5,161.6 110.6,159.6 110.7,160.4 110.8,160.5 110.9,159.3 111.0,160.0 111.0,161.2 111.1,160.6 111.2,159.6 111.3,159.9 111.4,159.7 111.5,160.6 111.6,159.9 111.7,160.9 111.8,160.7 111.9,160.2 112.0,160.7 112.1,160.2 112.2,160.7 112.3,160.4 112.4,159.4 112.5,160.2 112.6,159.9 112.7,161.4 112.8,160.9 112.9,160.0 113.0,161.5 113.1,160.8 113.2,160.7 113.3,159.8 113.4,161.5 113.5,160.8 113.5,160.5 113.6,160.4 113.7,161.4 113.8,159.8 113.9,160.1 114.0,159.7 114.1,160.1 114.2,160.1 114.3,160.6 114.4,160.6 114.5,161.1 114.6,160.2 114.7,161.1 114.8,159.8 114.9,160.1 115.0,160.7 115.1,160.3 115.2,161.3 115.3,161.0 115.4,160.8 115.5,161.2 115.6,160.7 115.7,160.5 115.8,160.7 115.9,160.8 116.0,161.0 116.0,161.5 116.1,160.0 116.2,160.5 116.3,159.6 116.4,160.9 116.5,160.6 116.6,159.9 116.7,159.4 116.8,159.7 116.9,159.7 117.0,161.0 117.1,159.9 117.2,159.1 117.3,161.4 117.4,160.0 117.5,158.9 117.6,160.8 117.7,160.0 117.8,159.0 117.9,159.8 118.0,160.0 118.1,159.6 118.2,160.1 118.3,159.6 118.4,160.1 118.5,159.5 118.6,160.5 118.6,160.0 118.7,159.9 118.8,161.2 118.9,159.4 119.0,160.0 119.1,160.2 119.2,160.6 119.3,159.8 119.4,160.2 119.5,159.2 119.6,158.6 119.7,159.7 119.8,159.8 119.9,159.3 120.0,159.2 120.1,158.6 120.2,159.8 120.3,158.1 120.4,157.9 120.5,157.5 120.6,156.9 120.7,153.6 120.8,150.5 120.9,146.3 121.0,139.5 121.1,130.7 121.1,120.4 121.2,108.1 121.3,97.3 121.4,86.5 121.5,82.6 121.6,80.6 121.7,86.0 121.8,96.1 121.9,109.1 122.0,120.7 122.1,130.9 122.2,140.5 122.3,146.3 122.4,151.2 122.5,153.4 122.6,156.4 122.7,157.7 122.8,157.7 122.9,157.9 123.0,159.1 123.1,159.9 123.2,160.0 123.3,160.4 123.4,159.5 123.5,160.3 123.6,159.8 123.6,160.7 123.7,160.1 123.8,159.7 123.9,160.7 124.0,159.5 124.1,160.1 124.2,160.7 124.3,160.5 124.4,160.4 124.5,160.9 124.6,160.8 124.7,160.3 124.8,161.6 124.9,159.2 125.0,160.1 125.1,160.0 125.2,159.4 125.3,160.4 125.4,160.8 125.5,160.9 125.6,160.6 125.7,160.1 125.8,161.5 125.9,160.0 126.0,161.3 126.1,161.7 126.2,160.4 126.2,161.5 126.3,160.8 126.4,162.0 126.5,160.9 126.6,161.6 126.7,160.7 126.8,162.3 126.9,161.8 127.0,162.0 127.1,161.3 127.2,162.1 127.3,161.7 127.4,161.6 127.5,161.8 127.6,161.5 127.7,161.5 127.8,162.5 127.9,161.0 128.0,162.2 128.1,162.0 128.2,160.5 128.3,161.9 128.4,161.5 128.5,161.0 128.6,161.7 128.7,161.3 128.7,161.3 128.8,161.1 128.9,161.5 129.0,160.0 129.1,160.4 129.2,159.8 129.3,159.7 129.4,159.7 129.5,158.3 129.6,158.8 129.7,157.3 129.8,157.7 129.9,157.1 130.0,156.0 130.1,154.1 130.2,154.4 130.3,154.3 130.4,153.8 130.5,153.1 130.6,154.0 130.7,154.9 130.8,154.6 130.9,154.4 131.0,155.2 131.1,155.5 131.2,155.1 131.2,156.6 131.3,157.4 131.4,157.6 131.5,157.5 131.6,157.7 131.7,158.7 131.8,159.6 131.9,160.0 132.0,160.7 132.1,160.6 132.2,159.9 132.3,160.3 132.4,160.5 132.5,161.4 132.6,160.9 132.7,161.3 132.8,160.0 132.9,160.9 133.0,161.0 133.1,161.0 133.2,161.0 133.3,160.9 133.4,161.3 133.5,160.8 133.6,160.9 133.7,160.4 133.8,160.6 133.8,160.6 133.9,161.2 134.0,160.9 134.1,162.2 134.2,161.4 134.3,161.2 134.4,162.3 134.5,160.3 134.6,160.4 134.7,160.8 134.8,159.6 134.9,161.8 135.0,160.8 135.1,160.8 135.2,161.1 135.3,160.0 135.4,160.2 135.5,160.5 135.6,161.3 135.7,160.6 135.8,160.7 135.9,160.4 136.0,161.4 136.1,161.2 136.2,159.9 136.3,160.5 136.3,160.5 136.4,160.4 136.5,161.8 136.6,159.4 136.7,160.9 136.8,160.6 136.9,159.4 137.0,158.7 137.1,158.5 137.2,159.0 137.3,158.3 137.4,156.0 137.5,153.8 137.6,150.8 137.7,142.8 137.8,135.9 137.9,123.4 138.0,110.8 138.1,98.4 138.2,89.5 138.3,85.6 138.4,89.4 138.5,99.3 138.6,111.4 138.7,122.8 138.8,135.8 138.8,143.1 138.9,150.1 139.0,154.8 139.1,156.8 139.2,157.5 139.3,160.2 139.4,158.6 139.5,158.8 139.6,159.9 139.7,160.1 139.8,160.0 139.9,159.6 140.0,160.8 140.1,160.6 140.2,160.2 140.3,161.3 140.4,160.3 140.5,160.6 140.6,160.1 140.7,161.3 140.8,160.7 140.9,160.5 141.0,160.7 141.1,161.3 141.2,160.1 141.3,160.8 141.4,160.7 141.4,160.8 141.5,160.4 141.6,160.8 141.7,161.2 141.8,160.4 141.9,160.9 142.0,160.8 142.1,160.7 142.2,161.5 142.3,160.8 142.4,160.7 142.5,161.7 142.6,161.1 142.7,160.9 142.8,160.5 142.9,161.1 143.0,160.9 143.1,160.5 143.2,161.6 143.3,161.3 143.4,161.1 143.5,160.5 143.6,160.1 143.7,160.9 143.8,161.0 143.9,161.2 143.9,160.9 144.0,160.0 144.1,161.0 144.2,161.2 144.3,160.0 144.4,161.0 144.5,161.0 144.6,161.4 144.7,160.3 144.8,161.0 144.9,162.0 145.0,162.1 145.1,160.7 145.2,161.2 145.3,160.6 145.4,160.6 145.5,160.0 145.6,160.1 145.7,161.5 145.8,161.1 145.9,161.3 146.0,160.4 146.1,161.7 146.2,160.5 146.3,161.9 146.4,160.3 146.4,160.2 146.5,161.8 146.6,160.9 146.7,161.2 146.8,161.8 146.9,160.3 147.0,161.3 147.1,160.3 147.2,160.6 147.3,159.8 147.4,161.1 147.5,160.4 147.6,160.8 147.7,161.1 147.8,160.3 147.9,160.8 148.0,161.1 148.1,160.8 148.2,161.6 148.3,160.3 148.4,159.9 148.5,161.7 148.6,160.8 148.7,161.1 148.8,161.3 148.9,160.4 149.0,159.9 149.0,160.7 149.1,161.0 149.2,159.9 149.3,161.0 149.4,161.2 149.5,161.1 149.6,160.3 149.7,160.7 149.8,160.6 149.9,161.1 150.0,160.5 150.1,160.6 150.2,159.6 150.3,160.5 150.4,161.0 150.5,159.4 150.6,160.0 150.7,160.1 150.8,159.6 150.9,159.7 151.0,160.8 151.1,159.3 151.2,158.4 151.3,158.3 151.4,159.0 151.5,158.4 151.5,157.7 151.6,156.5 151.7,157.1 151.8,156.9 151.9,157.0 152.0,156.7 152.1,156.5 152.2,155.9 152.3,156.3 152.4,155.8 152.5,156.0 152.6,154.5 152.7,154.5 152.8,154.6 152.9,154.2 153.0,152.8 153.1,152.1 153.2,151.1 153.3,150.5 153.4,147.8 153.5,143.8 153.6,141.3 153.7,138.5 153.8,136.0 153.9,131.8 154.0,130.5 154.0,128.3 154.1,128.0 154.2,129.0 154.3,131.1 154.4,132.9 154.5,137.1 154.6,140.1 154.7,143.2 154.8,145.8 154.9,149.6 155.0,151.9 155.1,153.7 155.2,157.1 155.3,157.6 155.4,158.3 155.5,159.3 155.6,158.9 155.7,160.1 155.8,159.7 155.9,159.7 156.0,160.6 156.1,160.3 156.2,159.8 156.3,160.2 156.4,160.7 156.5,161.8 156.5,161.2 156.6,161.0 156.7,160.8 156.8,160.9 156.9,161.0 157.0,161.6 157.1,160.7 157.2,160.6 157.3,161.2 157.4,161.1 157.5,160.7 157.6,161.4 157.7,161.0 157.8,160.7 157.9,161.6 158.0,161.3 158.1,161.7 158.2,161.9 158.3,162.4 158.4,161.1 158.5,159.9 158.6,161.5 158.7,160.5 158.8,160.8 158.9,161.6 159.0,160.9 159.1,161.6 159.1,162.6 159.2,160.9 159.3,161.6 159.4,161.5 159.5,161.0 159.6,160.9 159.7,161.6 159.8,161.3 159.9,161.3 160.0,161.9 160.1,161.0 160.2,161.8 160.3,161.3 160.4,161.0 160.5,161.0 160.6,162.6 160.7,161.9 160.8,161.7 160.9,162.0 161.0,161.6 161.1,161.6 161.2,161.5 161.3,160.3 161.4,161.4 161.5,161.5 161.6,162.0 161.6,161.7 161.7,161.7 161.8,161.2 161.9,162.3 162.0,161.7 162.1,162.2 162.2,162.6 162.3,161.2 162.4,161.7 162.5,161.4 162.6,160.7 162.7,160.8 162.8,161.7 162.9,161.4 163.0,161.9 163.1,161.7 163.2,162.5 163.3,161.1 163.4,161.5 163.5,160.9 163.6,160.4 163.7,161.8 163.8,161.2 163.9,161.3 164.0,160.3 164.1,160.9 164.1,159.6 164.2,159.1 164.3,159.0 164.4,158.8 164.5,159.4 164.6,159.4 164.7,160.0 164.8,159.0 164.9,159.9 165.0,159.6 165.1,158.4 165.2,158.7 165.3,160.1 165.4,158.4 165.5,160.6 165.6,160.8 165.7,159.6 165.8,159.8 165.9,161.0 166.0,160.7 166.1,162.1 166.2,160.9 166.3,161.8 166.4,161.0 166.5,162.0 166.6,162.0 166.7,161.3 166.7,161.4 166.8,162.0 166.9,162.6 167.0,161.6 167.1,161.0 167.2,161.4 167.3,162.6 167.4,161.8 167.5,161.7 167.6,161.0 167.7,162.0 167.8,162.0 167.9,161.0 168.0,162.6 168.1,162.3 168.2,162.5 168.3,161.3 168.4,162.4 168.5,161.6 168.6,162.4 168.7,161.2 168.8,161.7 168.9,162.4 169.0,161.6 169.1,161.8 169.2,162.0 169.2,162.5 169.3,160.9 169.4,162.0 169.5,162.2 169.6,162.0 169.7,162.1 169.8,162.7 169.9,161.4 170.0,162.9 170.1,161.5 170.2,163.1 170.3,162.8 170.4,161.4 170.5,162.9 170.6,162.1 170.7,161.9 170.8,161.3 170.9,161.1 171.0,161.6 171.1,161.8 171.2,161.5 171.3,161.5 171.4,163.0 171.5,161.8 171.6,162.6 171.7,160.6 171.7,161.4 171.8,162.5 171.9,161.1 172.0,162.7 172.1,161.8 172.2,162.8 172.3,162.3 172.4,162.0 172.5,162.9 172.6,161.8 172.7,161.6 172.8,161.2 172.9,161.6 173.0,161.9 173.1,161.7 173.2,162.6 173.3,162.5 173.4,161.4 173.5,162.8 173.6,162.5 173.7,161.7 173.8,162.2 173.9,162.9 174.0,162.5 174.1,162.6 174.2,162.9 174.3,162.5 174.3,161.8 174.4,162.5 174.5,162.1 174.6,162.6 174.7,162.3 174.8,161.8 174.9,162.0 175.0,162.3 175.1,162.4 175.2,161.6 175.3,162.4 175.4,163.0 175.5,161.8 175.6,161.9 175.7,162.3 175.8,162.5 175.9,161.5 176.0,161.5 176.1,162.0 176.2,162.2 176.3,161.8 176.4,161.3 176.5,162.6 176.6,161.8 176.7,163.4 176.8,162.5 176.8,161.9 176.9,162.2 177.0,162.9 177.1,161.8 177.2,161.8 177.3,161.8 177.4,162.4 177.5,162.3 177.6,162.3 177.7,162.0 177.8,162.1 177.9,162.3 178.0,161.8 178.1,161.5 178.2,162.1 178.3,161.4 178.4,163.1 178.5,160.7 178.6,162.6 178.7,162.3 178.8,161.8 178.9,161.4 179.0,161.9 179.1,162.8 179.2,162.1 179.3,162.5 179.3,161.2 179.4,161.8 179.5,162.7 179.6,161.4 179.7,160.3 179.8,160.0 179.9,157.4 180.0,156.0 180.1,151.6 180.2,146.3 180.3,141.6 180.4,137.0 180.5,133.1 180.6,130.6 180.7,132.3 180.8,136.3 180.9,141.2 181.0,146.9 181.1,151.5 181.2,155.2 181.3,158.0 181.4,158.8 181.5,161.0 181.6,159.9 181.7,161.0 181.8,161.8 181.9,161.0 181.9,160.9 182.0,161.8 182.1,162.7 182.2,162.0 182.3,162.1 182.4,162.5 182.5,163.0 182.6,162.7 182.7,162.2 182.8,162.4 182.9,161.8 183.0,163.0 183.1,162.0 183.2,162.8 183.3,162.1 183.4,162.3 183.5,161.6 183.6,162.1 183.7,162.6 183.8,162.3 183.9,163.3 184.0,162.4 184.1,162.2 184.2,162.3 184.3,162.8 184.4,162.3 184.4,162.3 184.5,162.3 184.6,163.0 184.7,162.1 184.8,162.5 184.9,163.2 185.0,162.6 185.1,161.9 185.2,161.7 185.3,162.7 185.4,163.0 185.5,162.7 185.6,162.2 185.7,161.8 185.8,162.5 185.9,162.7 186.0,161.8 186.1,162.3 186.2,163.0 186.3,162.7 186.4,162.1 186.5,162.8 186.6,162.6 186.7,163.0 186.8,162.3 186.9,161.8 186.9,161.9 187.0,162.8 187.1,163.2 187.2,161.8 187.3,162.2 187.4,163.5 187.5,161.8 187.6,162.9 187.7,162.9 187.8,162.6 187.9,163.4 188.0,163.2 188.1,161.8 188.2,162.8 188.3,162.3 188.4,161.8 188.5,162.4 188.6,162.6 188.7,162.2 188.8,161.6 188.9,162.2 189.0,162.7 189.1,161.4 189.2,161.6 189.3,163.0 189.4,161.9 189.5,160.5 189.5,162.1 189.6,161.3 189.7,159.1 189.8,158.5 189.9,157.5 190.0,154.4 190.1,154.2 190.2,153.4 190.3,153.4 190.4,155.0 190.5,157.1 190.6,156.9 190.7,158.9 190.8,160.5 190.9,161.4 191.0,162.5 191.1,161.6 191.2,162.9 191.3,161.2 191.4,163.3 191.5,161.7 191.6,162.7 191.7,162.5 191.8,161.3 191.9,161.1 192.0,159.9 192.0,159.6 192.1,157.3 192.2,155.0 192.3,152.0 192.4,149.1 192.5,147.7 192.6,147.5 192.7,147.6 192.8,150.6 192.9,152.6 193.0,154.2 193.1,157.6 193.2,158.6 193.3,160.7 193.4,161.8 193.5,161.8 193.6,161.9 193.7,162.4 193.8,162.3 193.9,161.6 194.0,162.6 194.1,162.4 194.2,163.1 194.3,162.2 194.4,163.1 194.5,162.6 194.5,163.0 194.6,162.4 194.7,162.5 194.8,162.2 194.9,162.8 195.0,162.5 195.1,161.8 195.2,163.4 195.3,163.4 195.4,162.4 195.5,162.8 195.6,162.9 195.7,164.3 195.8,163.0 195.9,162.4 196.0,162.7 196.1,162.9 196.2,163.0 196.3,163.3 196.4,163.2 196.5,162.9 196.6,164.0 196.7,162.3 196.8,163.6 196.9,162.3 197.0,162.6 197.1,163.4 197.1,163.2 197.2,162.8 197.3,162.4 197.4,163.5 197.5,162.8 197.6,162.6 197.7,163.2 197.8,162.8 197.9,163.3 198.0,163.3 198.1,163.6 198.2,163.6 198.3,162.7 198.4,162.8 198.5,162.8 198.6,163.4 198.7,162.9 198.8,162.6 198.9,163.8 199.0,163.7 199.1,163.7 199.2,163.1 199.3,163.0 199.4,162.1 199.5,162.5 199.6,164.6 199.6,163.0 199.7,163.4 199.8,162.6 199.9,163.8 200.0,164.0 200.1,163.7 200.2,162.8 200.3,163.4 200.4,162.8 200.5,162.1 200.6,163.8 200.7,163.4 200.8,163.0 200.9,162.7 201.0,163.6 201.1,163.2 201.2,163.8 201.3,162.4 201.4,162.7 201.5,162.1 201.6,162.4 201.7,162.9 201.8,162.7 201.9,162.8 202.0,163.2 202.1,163.3 202.1,163.4 202.2,163.0 202.3,163.1 202.4,162.5 202.5,163.1 202.6,163.1 202.7,162.3 202.8,163.5 202.9,163.8 203.0,161.8 203.1,163.8 203.2,163.5 203.3,162.2 203.4,163.2 203.5,163.4 203.6,163.0 203.7,163.1 203.8,163.5 203.9,163.9 204.0,163.3 204.1,163.4 204.2,162.9 204.3,163.0 204.4,162.0 204.5,162.0 204.6,162.7 204.7,161.4 204.7,161.3 204.8,163.4 204.9,163.1 205.0,161.5 205.1,162.5 205.2,162.8 205.3,163.0 205.4,163.0 205.5,162.4 205.6,162.7 205.7,163.2 205.8,163.5 205.9,163.5 206.0,162.6 206.1,163.5 206.2,163.4 206.3,163.3 206.4,163.2 206.5,164.1 206.6,161.8 206.7,163.0 206.8,162.5 206.9,164.0 207.0,164.3 207.1,163.3 207.2,163.6 207.2,163.9 207.3,162.4 207.4,164.1 207.5,164.3 207.6,162.3 207.7,163.2 207.8,164.2 207.9,162.8 208.0,163.9 208.1,163.7 208.2,163.5 208.3,163.4 208.4,162.4 208.5,163.9 208.6,163.9 208.7,164.1 208.8,163.5 208.9,164.0 209.0,163.4 209.1,162.6 209.2,162.3 209.3,163.6 209.4,163.4 209.5,163.8 209.6,163.6 209.7,163.0 209.7,164.6 209.8,163.9 209.9,164.0 210.0,164.0 210.1,163.8 210.2,163.3 210.3,163.6 210.4,161.9 210.5,162.8 210.6,163.9 210.7,163.6 210.8,163.8 210.9,163.3 211.0,163.4 211.1,163.1 211.2,163.4 211.3,162.7 211.4,163.5 211.5,163.3 211.6,163.1 211.7,163.2 211.8,163.2 211.9,162.8 212.0,162.6 212.1,162.5 212.2,162.1 212.2,162.2 212.3,161.7 212.4,160.3 212.5,159.6 212.6,160.0 212.7,158.8 212.8,159.6 212.9,158.7 213.0,159.4 213.1,160.4 213.2,160.6 213.3,161.9 213.4,162.3 213.5,162.7 213.6,162.3 213.7,162.6 213.8,163.3 213.9,163.3 214.0,164.0 214.1,163.5 214.2,164.1 214.3,162.7 214.4,163.1 214.5,163.9 214.6,163.9 214.7,162.6 214.8,163.5 214.8,164.2 214.9,163.9 215.0,163.9 215.1,163.7 215.2,164.3 215.3,163.3 215.4,164.0 215.5,162.6 215.6,163.1 215.7,164.5 215.8,164.1 215.9,163.6 216.0,164.6 216.1,164.3 216.2,162.8 216.3,164.0 216.4,164.0 216.5,163.5 216.6,163.4 216.7,163.6 216.8,163.1 216.9,164.0 217.0,163.0 217.1,162.9 217.2,163.8 217.3,163.7 217.3,163.7 217.4,163.9 217.5,164.3 217.6,163.6 217.7,164.2 217.8,164.1 217.9,164.2 218.0,163.6 218.1,164.3 218.2,163.2 218.3,164.7 218.4,164.3 218.5,163.8 218.6,163.9 218.7,164.3 218.8,162.4 218.9,163.9 219.0,164.6 219.1,163.9" fill="none" stroke="#e0343e" stroke-width="0.95" stroke-linejoin="round"/>
<polyline points="36.3,162.5 36.4,162.7 36.5,163.6 36.6,163.6 36.7,162.4 36.8,163.4 36.9,163.4 37.0,164.3 37.1,163.9 37.2,163.3 37.3,164.8 37.4,163.4 37.5,163.7 37.6,163.7 37.6,163.5 37.7,163.4 37.8,162.9 37.9,164.4 38.0,163.1 38.1,163.9 38.2,163.7 38.3,163.4 38.4,163.6 38.5,163.1 38.6,164.0 38.7,163.3 38.8,163.8 38.9,164.8 39.0,164.4 39.1,162.9 39.2,163.8 39.3,163.2 39.4,163.6 39.5,163.9 39.6,162.1 39.7,162.9 39.8,164.3 39.9,163.6 40.0,163.6 40.1,164.9 40.1,164.4 40.2,163.0 40.3,162.9 40.4,162.9 40.5,164.2 40.6,163.5 40.7,163.6 40.8,163.8 40.9,164.0 41.0,163.6 41.1,164.8 41.2,165.4 41.3,164.0 41.4,162.9 41.5,164.5 41.6,164.2 41.7,163.7 41.8,164.5 41.9,163.7 42.0,164.1 42.1,164.1 42.2,164.5 42.3,163.7 42.4,163.5 42.5,163.1 42.6,164.1 42.6,164.6 42.7,163.9 42.8,163.4 42.9,164.6 43.0,163.7 43.1,162.6 43.2,163.4 43.3,164.7 43.4,164.2 43.5,164.8 43.6,164.6 43.7,162.6 43.8,164.0 43.9,164.3 44.0,163.8 44.1,164.5 44.2,162.9 44.3,163.6 44.4,163.9 44.5,163.4 44.6,163.4 44.7,163.6 44.8,165.0 44.9,164.3 45.0,162.9 45.1,164.4 45.2,164.3 45.2,164.6 45.3,163.7 45.4,164.2 45.5,164.4 45.6,163.4 45.7,164.6 45.8,163.5 45.9,163.8 46.0,163.8 46.1,163.5 46.2,164.0 46.3,164.0 46.4,163.1 46.5,164.1 46.6,163.7 46.7,164.2 46.8,164.5 46.9,163.8 47.0,164.7 47.1,163.6 47.2,163.4 47.3,163.7 47.4,164.1 47.5,164.8 47.6,164.4 47.7,162.6 47.7,164.7 47.8,163.6 47.9,163.9 48.0,163.9 48.1,164.7 48.2,164.9 48.3,164.2 48.4,164.0 48.5,164.1 48.6,163.7 48.7,164.5 48.8,164.8 48.9,163.9 49.0,164.1 49.1,165.3 49.2,163.4 49.3,163.7 49.4,163.4 49.5,164.1 49.6,163.8 49.7,164.7 49.8,164.8 49.9,163.3 50.0,164.5 50.1,165.2 50.2,164.5 50.2,164.1 50.3,164.2 50.4,164.6 50.5,163.6 50.6,163.9 50.7,163.1 50.8,164.0 50.9,162.8 51.0,163.5 51.1,163.6 51.2,163.7 51.3,163.1 51.4,163.4 51.5,164.1 51.6,163.1 51.7,163.4 51.8,162.6 51.9,163.1 52.0,161.8 52.1,160.2 52.2,160.5 52.3,157.3 52.4,155.1 52.5,150.2 52.6,141.4 52.7,128.9 52.8,116.0 52.8,99.1 52.9,81.9 53.0,70.8 53.1,66.0 53.2,71.9 53.3,82.6 53.4,99.9 53.5,115.6 53.6,129.5 53.7,142.4 53.8,150.1 53.9,153.9 54.0,157.8 54.1,160.0 54.2,160.9 54.3,161.8 54.4,161.7 54.5,163.5 54.6,162.3 54.7,163.3 54.8,163.8 54.9,163.6 55.0,164.9 55.1,163.7 55.2,164.5 55.3,163.0 55.3,164.4 55.4,163.1 55.5,163.6 55.6,162.8 55.7,164.1 55.8,164.1 55.9,165.2 56.0,164.8 56.1,164.5 56.2,165.0 56.3,164.5 56.4,164.8 56.5,164.7 56.6,164.1 56.7,164.5 56.8,164.4 56.9,164.4 57.0,163.9 57.1,165.0 57.2,165.0 57.3,165.0 57.4,165.0 57.5,164.7 57.6,164.8 57.7,164.5 57.8,165.9 57.8,165.4 57.9,165.1 58.0,164.5 58.1,164.8 58.2,164.2 58.3,164.4 58.4,164.9 58.5,165.5 58.6,165.4 58.7,164.8 58.8,166.0 58.9,164.6 59.0,164.1 59.1,164.5 59.2,164.0 59.3,164.3 59.4,165.0 59.5,163.9 59.6,165.3 59.7,164.2 59.8,166.3 59.9,165.0 60.0,165.6 60.1,164.8 60.2,165.4 60.3,165.0 60.3,164.5 60.4,165.2 60.5,164.8 60.6,164.7 60.7,165.2 60.8,166.2 60.9,166.2 61.0,165.8 61.1,164.8 61.2,163.8 61.3,164.9 61.4,165.4 61.5,164.5 61.6,164.7 61.7,165.5 61.8,164.7 61.9,165.0 62.0,165.4 62.1,165.0 62.2,164.5 62.3,164.6 62.4,164.5 62.5,165.3 62.6,165.2 62.7,164.4 62.8,164.3 62.9,164.0 62.9,164.4 63.0,165.3 63.1,165.2 63.2,163.9 63.3,164.9 63.4,164.0 63.5,164.8 63.6,165.8 63.7,165.1 63.8,164.7 63.9,164.1 64.0,165.0 64.1,164.2 64.2,164.2 64.3,165.1 64.4,164.7 64.5,164.6 64.6,165.8 64.7,164.4 64.8,164.8 64.9,165.5 65.0,165.4 65.1,165.2 65.2,165.4 65.3,164.9 65.4,164.4 65.4,165.1 65.5,165.2 65.6,164.2 65.7,164.9 65.8,164.6 65.9,165.9 66.0,164.5 66.1,165.2 66.2,164.6 66.3,165.1 66.4,164.2 66.5,165.0 66.6,164.2 66.7,165.1 66.8,164.9 66.9,165.3 67.0,163.9 67.1,164.7 67.2,164.0 67.3,164.3 67.4,164.6 67.5,165.6 67.6,164.5 67.7,164.6 67.8,164.9 67.9,165.9 67.9,164.2 68.0,166.0 68.1,164.9 68.2,166.5 68.3,165.2 68.4,163.9 68.5,164.3 68.6,164.9 68.7,164.5 68.8,165.4 68.9,165.0 69.0,163.5 69.1,164.9 69.2,164.9 69.3,165.3 69.4,164.8 69.5,164.2 69.6,165.0 69.7,164.5 69.8,164.7 69.9,164.4 70.0,164.9 70.1,164.6 70.2,165.3 70.3,163.5 70.4,164.4 70.5,165.5 70.5,163.5 70.6,165.2 70.7,164.7 70.8,164.7 70.9,165.2 71.0,164.2 71.1,164.7 71.2,164.8 71.3,165.1 71.4,165.7 71.5,164.9 71.6,163.8 71.7,164.6 71.8,165.0 71.9,165.1 72.0,165.3 72.1,164.7 72.2,165.1 72.3,164.8 72.4,164.8 72.5,164.2 72.6,164.6 72.7,165.1 72.8,164.3 72.9,164.3 73.0,163.0 73.0,165.3 73.1,164.4 73.2,165.5 73.3,163.8 73.4,164.1 73.5,163.6 73.6,164.3 73.7,163.7 73.8,165.4 73.9,164.4 74.0,164.6 74.1,163.7 74.2,164.5 74.3,163.7 74.4,165.4 74.5,165.7 74.6,163.7 74.7,164.8 74.8,164.2 74.9,163.8 75.0,163.9 75.1,164.1 75.2,164.4 75.3,164.8 75.4,163.7 75.5,164.4 75.5,165.2 75.6,164.0 75.7,164.1 75.8,165.9 75.9,165.7 76.0,164.8 76.1,163.8 76.2,165.2 76.3,165.5 76.4,163.7 76.5,165.7 76.6,164.1 76.7,165.1 76.8,164.2 76.9,164.4 77.0,164.6 77.1,164.1 77.2,164.9 77.3,164.7 77.4,165.2 77.5,164.7 77.6,165.3 77.7,164.3 77.8,164.2 77.9,164.8 78.0,164.8 78.1,164.4 78.1,164.6 78.2,165.6 78.3,165.0 78.4,164.6 78.5,164.9 78.6,163.8 78.7,164.0 78.8,164.7 78.9,164.4 79.0,163.9 79.1,163.9 79.2,164.0 79.3,164.4 79.4,164.0 79.5,164.6 79.6,164.3 79.7,164.5 79.8,164.3 79.9,164.1 80.0,164.3 80.1,164.9 80.2,164.0 80.3,165.1 80.4,164.0 80.5,164.1 80.6,163.7 80.6,163.1 80.7,162.3 80.8,161.8 80.9,160.6 81.0,156.7 81.1,153.1 81.2,150.4 81.3,147.7 81.4,143.5 81.5,143.1 81.6,144.6 81.7,148.1 81.8,149.9 81.9,152.5 82.0,157.0 82.1,159.7 82.2,161.1 82.3,161.9 82.4,163.1 82.5,163.7 82.6,163.9 82.7,163.3 82.8,164.2 82.9,164.6 83.0,163.1 83.1,164.1 83.1,165.9 83.2,163.7 83.3,163.7 83.4,164.2 83.5,164.5 83.6,163.4 83.7,164.3 83.8,163.3 83.9,163.7 84.0,163.9 84.1,162.9 84.2,163.5 84.3,164.9 84.4,163.3 84.5,163.4 84.6,163.4 84.7,162.4 84.8,163.4 84.9,163.2 85.0,163.9 85.1,164.2 85.2,164.0 85.3,163.9 85.4,163.3 85.5,163.6 85.6,163.2 85.7,163.4 85.7,164.3 85.8,164.8 85.9,163.7 86.0,163.0 86.1,163.8 86.2,164.0 86.3,163.7 86.4,163.0 86.5,163.1 86.6,163.8 86.7,163.2 86.8,163.4 86.9,163.0 87.0,162.2 87.1,162.4 87.2,161.8 87.3,162.6 87.4,160.9 87.5,162.1 87.6,162.3 87.7,160.7 87.8,159.8 87.9,160.0 88.0,159.3 88.1,159.2 88.2,159.3 88.2,160.4 88.3,160.4 88.4,161.3 88.5,161.1 88.6,161.2 88.7,161.2 88.8,162.9 88.9,164.0 89.0,162.8 89.1,162.9 89.2,162.3 89.3,162.8 89.4,162.9 89.5,162.4 89.6,163.5 89.7,163.0 89.8,162.5 89.9,162.0 90.0,162.3 90.1,163.4 90.2,162.5 90.3,163.5 90.4,163.2 90.5,163.8 90.6,163.7 90.7,164.1 90.7,163.4 90.8,164.1 90.9,163.5 91.0,163.4 91.1,162.7 91.2,164.2 91.3,163.0 91.4,162.7 91.5,162.6 91.6,163.0 91.7,162.9 91.8,162.7 91.9,162.7 92.0,162.6 92.1,162.3 92.2,161.7 92.3,162.9 92.4,162.9 92.5,162.4 92.6,163.2 92.7,162.9 92.8,163.4 92.9,162.7 93.0,162.8 93.1,162.7 93.2,162.9 93.3,163.2 93.3,162.7 93.4,163.1 93.5,163.2 93.6,162.6 93.7,163.1 93.8,164.3 93.9,163.1 94.0,164.1 94.1,163.0 94.2,161.6 94.3,162.3 94.4,164.1 94.5,161.4 94.6,162.7 94.7,163.0 94.8,162.5 94.9,162.9 95.0,163.4 95.1,162.7 95.2,162.4 95.3,162.3 95.4,162.2 95.5,162.7 95.6,162.4 95.7,163.0 95.8,162.0 95.8,161.3 95.9,162.6 96.0,161.9 96.1,160.9 96.2,163.2 96.3,162.9 96.4,160.7 96.5,161.2 96.6,161.3 96.7,162.2 96.8,162.0 96.9,162.1 97.0,161.2 97.1,161.5 97.2,161.3 97.3,160.8 97.4,158.4 97.5,156.9 97.6,153.7 97.7,151.1 97.8,145.3 97.9,140.4 98.0,135.7 98.1,133.3 98.2,133.7 98.3,135.6 98.3,140.5 98.4,145.0 98.5,149.0 98.6,153.2 98.7,157.0 98.8,158.6 98.9,159.5 99.0,159.6 99.1,160.9 99.2,161.2 99.3,161.8 99.4,162.3 99.5,161.3 99.6,161.7 99.7,162.3 99.8,161.2 99.9,161.7 100.0,160.8 100.1,161.7 100.2,161.9 100.3,160.8 100.4,161.7 100.5,161.0 100.6,161.1 100.7,162.4 100.8,162.3 100.9,162.0 100.9,161.0 101.0,161.8 101.1,160.1 101.2,160.6 101.3,160.6 101.4,160.9 101.5,160.4 101.6,160.4 101.7,160.5 101.8,160.2 101.9,159.7 102.0,157.8 102.1,156.3 102.2,153.8 102.3,149.0 102.4,144.9 102.5,140.9 102.6,136.9 102.7,135.7 102.8,136.5 102.9,140.8 103.0,144.2 103.1,148.7 103.2,151.9 103.3,155.4 103.4,157.9 103.4,159.5 103.5,159.8 103.6,159.8 103.7,160.3 103.8,161.2 103.9,161.4 104.0,160.0 104.1,161.0 104.2,160.1 104.3,161.4 104.4,161.5 104.5,162.1 104.6,160.4 104.7,161.8 104.8,161.3 104.9,160.7 105.0,161.0 105.1,161.2 105.2,161.9 105.3,160.4 105.4,161.2 105.5,160.4 105.6,161.5 105.7,160.4 105.8,160.9 105.9,161.2 105.9,162.0 106.0,160.4 106.1,162.3 106.2,160.2 106.3,161.1 106.4,160.3 106.5,160.4 106.6,160.0 106.7,162.0 106.8,160.8 106.9,161.1 107.0,161.3 107.1,160.8 107.2,161.0 107.3,160.0 107.4,161.3 107.5,160.8 107.6,160.1 107.7,161.2 107.8,160.3 107.9,160.2 108.0,161.0 108.1,160.9 108.2,160.8 108.3,160.1 108.4,160.5 108.4,161.9 108.5,160.1 108.6,161.8 108.7,161.2 108.8,161.9 108.9,161.3 109.0,160.7 109.1,160.6 109.2,160.7 109.3,161.5 109.4,160.5 109.5,160.3 109.6,161.8 109.7,160.4 109.8,160.9 109.9,161.2 110.0,161.1 110.1,160.9 110.2,160.9 110.3,160.4 110.4,160.7 110.5,160.7 110.6,160.9 110.7,160.6 110.8,160.0 110.9,159.9 111.0,160.2 111.0,161.1 111.1,159.7 111.2,160.8 111.3,161.3 111.4,160.8 111.5,160.3 111.6,160.5 111.7,160.6 111.8,161.1 111.9,160.1 112.0,160.6 112.1,160.6 112.2,160.1 112.3,159.9 112.4,160.8 112.5,160.5 112.6,160.3 112.7,160.6 112.8,160.5 112.9,160.3 113.0,160.7 113.1,160.4 113.2,161.6 113.3,160.7 113.4,159.7 113.5,160.7 113.5,161.0 113.6,161.4 113.7,159.8 113.8,160.5 113.9,159.7 114.0,159.7 114.1,160.4 114.2,159.9 114.3,160.5 114.4,160.4 114.5,160.9 114.6,160.8 114.7,160.0 114.8,160.0 114.9,160.7 115.0,159.7 115.1,160.1 115.2,161.0 115.3,160.7 115.4,160.8 115.5,160.2 115.6,160.4 115.7,160.7 115.8,160.3 115.9,159.9 116.0,159.9 116.0,160.1 116.1,160.5 116.2,160.7 116.3,160.6 116.4,160.1 116.5,160.2 116.6,159.3 116.7,159.9 116.8,160.3 116.9,160.7 117.0,161.5 117.1,161.3 117.2,160.4 117.3,159.7 117.4,159.2 117.5,159.8 117.6,159.8 117.7,160.0 117.8,160.0 117.9,159.9 118.0,160.5 118.1,160.5 118.2,159.2 118.3,159.9 118.4,158.8 118.5,159.2 118.6,158.4 118.6,159.3 118.7,160.2 118.8,158.7 118.9,160.1 119.0,159.2 119.1,159.7 119.2,160.0 119.3,159.2 119.4,160.1 119.5,159.1 119.6,158.9 119.7,159.5 119.8,159.4 119.9,159.0 120.0,158.8 120.1,158.4 120.2,158.9 120.3,157.9 120.4,158.1 120.5,156.8 120.6,155.1 120.7,152.3 120.8,147.7 120.9,142.5 121.0,133.5 121.1,121.8 121.1,108.8 121.2,93.6 121.3,77.8 121.4,64.9 121.5,58.2 121.6,57.9 121.7,65.0 121.8,78.2 121.9,93.5 122.0,108.9 122.1,122.5 122.2,133.6 122.3,142.9 122.4,149.1 122.5,153.3 122.6,154.4 122.7,156.0 122.8,158.4 122.9,158.3 123.0,158.8 123.1,159.5 123.2,158.4 123.3,159.2 123.4,158.8 123.5,158.1 123.6,159.5 123.6,160.2 123.7,160.6 123.8,158.9 123.9,159.5 124.0,160.3 124.1,160.2 124.2,160.2 124.3,159.3 124.4,159.4 124.5,160.7 124.6,159.6 124.7,160.2 124.8,160.6 124.9,160.1 125.0,159.8 125.1,160.3 125.2,160.7 125.3,160.2 125.4,161.9 125.5,160.8 125.6,160.9 125.7,160.1 125.8,161.5 125.9,161.7 126.0,160.8 126.1,161.4 126.2,160.9 126.2,161.3 126.3,162.0 126.4,161.0 126.5,160.8 126.6,161.6 126.7,161.7 126.8,162.1 126.9,160.5 127.0,161.1 127.1,161.3 127.2,161.7 127.3,161.7 127.4,161.0 127.5,160.2 127.6,162.1 127.7,161.4 127.8,161.1 127.9,161.4 128.0,161.4 128.1,161.2 128.2,160.2 128.3,161.1 128.4,161.6 128.5,161.9 128.6,161.9 128.7,162.3 128.7,160.8 128.8,160.6 128.9,160.6 129.0,159.7 129.1,159.6 129.2,160.0 129.3,160.4 129.4,158.6 129.5,158.5 129.6,158.4 129.7,159.2 129.8,156.7 129.9,157.3 130.0,157.4 130.1,155.8 130.2,154.6 130.3,154.1 130.4,154.8 130.5,153.8 130.6,154.2 130.7,154.3 130.8,155.0 130.9,153.9 131.0,156.2 131.1,155.0 131.2,156.3 131.2,157.2 131.3,157.9 131.4,157.9 131.5,158.8 131.6,159.6 131.7,159.4 131.8,159.6 131.9,159.6 132.0,160.4 132.1,161.0 132.2,161.3 132.3,160.8 132.4,160.7 132.5,161.0 132.6,160.9 132.7,160.7 132.8,160.6 132.9,160.6 133.0,160.3 133.1,160.9 133.2,161.5 133.3,160.7 133.4,161.0 133.5,161.2 133.6,160.5 133.7,161.7 133.8,161.1 133.8,161.0 133.9,160.3 134.0,161.3 134.1,160.6 134.2,160.0 134.3,160.6 134.4,160.3 134.5,160.8 134.6,160.8 134.7,160.3 134.8,161.2 134.9,161.8 135.0,160.3 135.1,161.4 135.2,160.8 135.3,160.7 135.4,160.1 135.5,159.8 135.6,161.1 135.7,160.3 135.8,161.0 135.9,160.2 136.0,160.4 136.1,160.2 136.2,161.2 136.3,160.4 136.3,160.2 136.4,160.2 136.5,159.6 136.6,160.0 136.7,160.7 136.8,160.8 136.9,160.3 137.0,159.0 137.1,159.0 137.2,159.3 137.3,158.1 137.4,156.4 137.5,154.2 137.6,150.6 137.7,143.8 137.8,134.0 137.9,123.5 138.0,110.7 138.1,99.1 138.2,88.9 138.3,86.4 138.4,89.3 138.5,97.9 138.6,111.2 138.7,123.6 138.8,134.5 138.8,143.8 138.9,151.0 139.0,154.0 139.1,157.2 139.2,156.9 139.3,158.8 139.4,158.7 139.5,159.0 139.6,160.3 139.7,159.4 139.8,159.5 139.9,159.4 140.0,160.3 140.1,160.7 140.2,160.7 140.3,160.8 140.4,160.8 140.5,161.1 140.6,159.9 140.7,160.8 140.8,160.4 140.9,160.6 141.0,160.8 141.1,160.9 141.2,160.7 141.3,161.4 141.4,161.1 141.4,160.3 141.5,160.4 141.6,161.4 141.7,161.4 141.8,160.5 141.9,161.4 142.0,161.1 142.1,161.0 142.2,161.4 142.3,160.9 142.4,160.6 142.5,161.2 142.6,160.8 142.7,160.8 142.8,160.6 142.9,161.7 143.0,159.9 143.1,161.3 143.2,160.9 143.3,161.5 143.4,160.8 143.5,159.9 143.6,160.6 143.7,162.6 143.8,161.0 143.9,161.2 143.9,161.2 144.0,160.6 144.1,160.9 144.2,160.8 144.3,160.6 144.4,160.7 144.5,160.7 144.6,160.7 144.7,161.1 144.8,161.2 144.9,160.9 145.0,161.0 145.1,160.7 145.2,161.2 145.3,160.6 145.4,161.2 145.5,162.6 145.6,160.7 145.7,160.3 145.8,162.1 145.9,162.0 146.0,160.1 146.1,160.6 146.2,161.4 146.3,160.5 146.4,161.1 146.4,161.7 146.5,161.7 146.6,160.2 146.7,161.2 146.8,161.1 146.9,160.7 147.0,160.5 147.1,160.4 147.2,161.9 147.3,160.5 147.4,160.2 147.5,160.7 147.6,160.8 147.7,161.2 147.8,161.5 147.9,161.4 148.0,160.6 148.1,161.4 148.2,160.7 148.3,161.2 148.4,159.6 148.5,160.2 148.6,160.5 148.7,160.6 148.8,160.4 148.9,160.6 149.0,160.8 149.0,161.0 149.1,160.9 149.2,161.5 149.3,160.4 149.4,161.0 149.5,160.9 149.6,161.2 149.7,160.5 149.8,160.4 149.9,161.8 150.0,161.5 150.1,161.2 150.2,161.9 150.3,159.7 150.4,160.6 150.5,161.5 150.6,159.7 150.7,159.3 150.8,160.3 150.9,160.5 151.0,159.2 151.1,159.6 151.2,158.6 151.3,158.3 151.4,158.3 151.5,156.8 151.5,157.4 151.6,158.0 151.7,157.1 151.8,157.8 151.9,156.1 152.0,156.8 152.1,155.7 152.2,154.3 152.3,155.8 152.4,155.3 152.5,155.2 152.6,156.0 152.7,154.7 152.8,154.9 152.9,153.2 153.0,153.9 153.1,152.5 153.2,151.1 153.3,149.3 153.4,147.7 153.5,144.3 153.6,141.5 153.7,138.4 153.8,136.0 153.9,134.3 154.0,130.6 154.0,129.6 154.1,129.6 154.2,130.2 154.3,130.9 154.4,135.0 154.5,137.3 154.6,140.7 154.7,144.1 154.8,146.2 154.9,150.5 155.0,152.6 155.1,154.3 155.2,157.0 155.3,156.9 155.4,158.3 155.5,158.4 155.6,159.8 155.7,160.7 155.8,159.8 155.9,160.8 156.0,160.5 156.1,161.0 156.2,159.8 156.3,160.4 156.4,160.7 156.5,159.7 156.5,161.1 156.6,160.5 156.7,160.9 156.8,161.1 156.9,160.5 157.0,161.1 157.1,160.6 157.2,161.0 157.3,160.8 157.4,160.9 157.5,161.9 157.6,161.2 157.7,160.5 157.8,159.4 157.9,161.1 158.0,161.1 158.1,161.3 158.2,161.3 158.3,161.1 158.4,161.6 158.5,160.6 158.6,161.3 158.7,161.5 158.8,161.1 158.9,161.7 159.0,161.3 159.1,160.8 159.1,161.1 159.2,161.4 159.3,160.9 159.4,163.2 159.5,161.4 159.6,162.0 159.7,161.9 159.8,161.7 159.9,160.9 160.0,161.6 160.1,160.4 160.2,160.5 160.3,162.0 160.4,162.3 160.5,161.0 160.6,161.8 160.7,160.6 160.8,161.2 160.9,161.7 161.0,160.0 161.1,160.6 161.2,162.5 161.3,162.0 161.4,161.0 161.5,162.4 161.6,161.2 161.6,161.3 161.7,162.4 161.8,160.8 161.9,161.6 162.0,162.0 162.1,161.0 162.2,160.8 162.3,161.5 162.4,161.7 162.5,161.7 162.6,161.4 162.7,161.7 162.8,161.6 162.9,161.9 163.0,161.4 163.1,160.2 163.2,161.1 163.3,160.8 163.4,160.5 163.5,161.6 163.6,161.9 163.7,161.7 163.8,160.9 163.9,161.3 164.0,160.3 164.1,160.3 164.1,160.1 164.2,160.8 164.3,160.1 164.4,159.5 164.5,159.8 164.6,160.1 164.7,159.9 164.8,159.2 164.9,159.8 165.0,159.6 165.1,159.0 165.2,159.3 165.3,159.7 165.4,160.7 165.5,160.4 165.6,160.8 165.7,160.3 165.8,161.1 165.9,161.8 166.0,161.4 166.1,160.6 166.2,161.1 166.3,162.2 166.4,161.1 166.5,159.8 166.6,162.1 166.7,161.1 166.7,161.0 166.8,161.5 166.9,163.0 167.0,162.2 167.1,161.8 167.2,161.7 167.3,162.2 167.4,161.4 167.5,162.1 167.6,162.3 167.7,161.8 167.8,163.0 167.9,160.3 168.0,161.6 168.1,161.5 168.2,161.8 168.3,161.1 168.4,161.5 168.5,161.5 168.6,162.1 168.7,163.3 168.8,162.6 168.9,161.9 169.0,162.4 169.1,163.2 169.2,161.7 169.2,161.6 169.3,162.5 169.4,162.2 169.5,162.1 169.6,162.8 169.7,161.4 169.8,161.7 169.9,162.0 170.0,162.2 170.1,162.1 170.2,161.7 170.3,161.2 170.4,161.8 170.5,161.5 170.6,161.5 170.7,162.4 170.8,162.2 170.9,162.3 171.0,162.8 171.1,162.2 171.2,162.8 171.3,162.0 171.4,161.4 171.5,161.8 171.6,162.6 171.7,161.4 171.7,162.2 171.8,160.9 171.9,163.2 172.0,161.9 172.1,162.6 172.2,162.2 172.3,162.6 172.4,162.0 172.5,162.7 172.6,162.3 172.7,162.4 172.8,160.2 172.9,161.5 173.0,162.3 173.1,163.1 173.2,162.6 173.3,162.6 173.4,162.6 173.5,163.2 173.6,162.2 173.7,161.7 173.8,162.0 173.9,161.6 174.0,161.8 174.1,161.6 174.2,162.1 174.3,161.9 174.3,161.8 174.4,161.8 174.5,162.3 174.6,162.9 174.7,161.5 174.8,162.1 174.9,161.8 175.0,162.9 175.1,161.9 175.2,162.1 175.3,161.8 175.4,161.8 175.5,162.1 175.6,162.8 175.7,161.8 175.8,162.4 175.9,161.6 176.0,162.1 176.1,162.7 176.2,162.4 176.3,163.2 176.4,161.4 176.5,162.7 176.6,162.8 176.7,162.9 176.8,163.1 176.8,161.4 176.9,162.0 177.0,161.7 177.1,161.8 177.2,161.8 177.3,161.6 177.4,162.7 177.5,161.1 177.6,162.1 177.7,161.9 177.8,162.1 177.9,162.3 178.0,162.2 178.1,162.0 178.2,163.0 178.3,161.4 178.4,162.3 178.5,162.5 178.6,161.9 178.7,162.4 178.8,161.3 178.9,161.8 179.0,162.3 179.1,162.7 179.2,162.0 179.3,161.7 179.3,160.8 179.4,161.7 179.5,160.9 179.6,160.7 179.7,159.1 179.8,158.9 179.9,157.6 180.0,155.6 180.1,151.9 180.2,146.7 180.3,140.9 180.4,137.2 180.5,132.5 180.6,131.5 180.7,132.6 180.8,136.7 180.9,142.1 181.0,146.7 181.1,152.0 181.2,154.9 181.3,158.1 181.4,160.4 181.5,161.7 181.6,161.4 181.7,160.5 181.8,161.7 181.9,161.8 181.9,162.4 182.0,162.3 182.1,161.1 182.2,161.7 182.3,162.6 182.4,163.4 182.5,161.9 182.6,161.9 182.7,162.7 182.8,162.5 182.9,161.9 183.0,162.0 183.1,163.0 183.2,162.1 183.3,162.9 183.4,162.2 183.5,163.3 183.6,162.4 183.7,162.4 183.8,161.8 183.9,161.9 184.0,163.3 184.1,162.2 184.2,163.7 184.3,163.6 184.4,162.4 184.4,162.4 184.5,163.0 184.6,162.5 184.7,163.2 184.8,162.8 184.9,162.7 185.0,162.6 185.1,163.0 185.2,163.2 185.3,162.3 185.4,162.5 185.5,164.1 185.6,162.0 185.7,163.2 185.8,162.8 185.9,161.9 186.0,163.0 186.1,163.0 186.2,162.2 186.3,162.9 186.4,164.1 186.5,162.8 186.6,162.5 186.7,162.0 186.8,161.5 186.9,163.2 186.9,163.4 187.0,162.3 187.1,162.8 187.2,162.7 187.3,161.6 187.4,163.2 187.5,162.3 187.6,162.8 187.7,163.6 187.8,162.9 187.9,161.9 188.0,163.5 188.1,161.8 188.2,162.3 188.3,162.8 188.4,162.3 188.5,162.8 188.6,162.6 188.7,162.7 188.8,162.0 188.9,162.9 189.0,162.2 189.1,163.1 189.2,162.3 189.3,162.0 189.4,161.7 189.5,161.8 189.5,161.1 189.6,161.6 189.7,159.4 189.8,157.8 189.9,155.0 190.0,155.0 190.1,152.9 190.2,152.8 190.3,153.9 190.4,155.8 190.5,156.1 190.6,157.2 190.7,158.9 190.8,160.6 190.9,160.5 191.0,162.5 191.1,162.2 191.2,162.5 191.3,161.0 191.4,161.3 191.5,162.5 191.6,162.9 191.7,162.6 191.8,161.0 191.9,160.9 192.0,160.8 192.0,158.9 192.1,157.4 192.2,155.3 192.3,152.0 192.4,149.8 192.5,147.7 192.6,146.3 192.7,147.5 192.8,149.4 192.9,152.4 193.0,155.3 193.1,156.7 193.2,158.5 193.3,160.0 193.4,161.9 193.5,162.2 193.6,162.5 193.7,161.5 193.8,163.0 193.9,162.3 194.0,163.3 194.1,162.6 194.2,162.0 194.3,163.3 194.4,162.2 194.5,162.5 194.5,162.5 194.6,163.1 194.7,162.9 194.8,162.5 194.9,162.2 195.0,163.8 195.1,162.5 195.2,162.2 195.3,163.0 195.4,163.3 195.5,163.4 195.6,163.3 195.7,163.3 195.8,162.5 195.9,163.4 196.0,162.9 196.1,162.4 196.2,162.9 196.3,163.1 196.4,162.0 196.5,163.0 196.6,163.4 196.7,163.0 196.8,163.0 196.9,162.5 197.0,163.1 197.1,163.8 197.1,163.6 197.2,163.0 197.3,163.3 197.4,162.9 197.5,163.6 197.6,162.4 197.7,161.7 197.8,162.9 197.9,162.4 198.0,163.0 198.1,163.2 198.2,162.4 198.3,163.1 198.4,162.3 198.5,161.9 198.6,162.8 198.7,162.1 198.8,163.6 198.9,163.2 199.0,163.4 199.1,163.6 199.2,163.6 199.3,162.9 199.4,163.7 199.5,163.0 199.6,163.6 199.6,162.8 199.7,163.1 199.8,162.6 199.9,163.1 200.0,162.9 200.1,162.9 200.2,162.2 200.3,163.4 200.4,163.3 200.5,163.1 200.6,163.1 200.7,163.2 200.8,163.2 200.9,163.8 201.0,163.2 201.1,163.1 201.2,163.8 201.3,164.1 201.4,164.3 201.5,162.8 201.6,163.0 201.7,162.7 201.8,163.5 201.9,163.0 202.0,162.5 202.1,163.2 202.1,162.4 202.2,163.2 202.3,162.9 202.4,162.8 202.5,163.0 202.6,163.7 202.7,163.3 202.8,162.1 202.9,163.3 203.0,161.8 203.1,163.0 203.2,163.1 203.3,162.4 203.4,163.1 203.5,164.0 203.6,163.4 203.7,163.3 203.8,161.8 203.9,163.0 204.0,161.7 204.1,163.9 204.2,162.6 204.3,161.5 204.4,162.7 204.5,162.0 204.6,161.9 204.7,161.8 204.7,162.7 204.8,162.2 204.9,161.9 205.0,162.4 205.1,162.5 205.2,162.8 205.3,162.8 205.4,163.3 205.5,162.7 205.6,162.9 205.7,163.6 205.8,163.9 205.9,162.9 206.0,162.9 206.1,162.7 206.2,163.1 206.3,162.8 206.4,162.8 206.5,164.6 206.6,162.4 206.7,163.6 206.8,162.8 206.9,163.2 207.0,163.7 207.1,163.0 207.2,164.2 207.2,163.2 207.3,162.6 207.4,163.4 207.5,162.5 207.6,163.1 207.7,162.6 207.8,163.7 207.9,163.2 208.0,165.0 208.1,163.0 208.2,163.7 208.3,163.9 208.4,163.8 208.5,164.0 208.6,163.5 208.7,162.9 208.8,163.4 208.9,162.3 209.0,163.2 209.1,163.4 209.2,163.6 209.3,164.2 209.4,164.4 209.5,164.0 209.6,164.1 209.7,164.0 209.7,163.4 209.8,163.6 209.9,163.3 210.0,163.6 210.1,163.1 210.2,164.0 210.3,163.2 210.4,164.1 210.5,161.8 210.6,163.4 210.7,162.9 210.8,163.2 210.9,163.9 211.0,162.8 211.1,163.2 211.2,164.0 211.3,162.6 211.4,163.7 211.5,163.0 211.6,164.2 211.7,163.4 211.8,163.1 211.9,163.0 212.0,162.9 212.1,163.1 212.2,161.4 212.2,162.4 212.3,161.7 212.4,161.0 212.5,160.4 212.6,159.8 212.7,160.2 212.8,159.8 212.9,159.6 213.0,160.4 213.1,159.4 213.2,161.6 213.3,161.8 213.4,162.6 213.5,161.8 213.6,163.1 213.7,161.8 213.8,163.2 213.9,162.8 214.0,163.1 214.1,164.2 214.2,162.6 214.3,164.1 214.4,163.9 214.5,162.3 214.6,163.6 214.7,163.9 214.8,164.0 214.8,163.4 214.9,162.4 215.0,163.9 215.1,164.8 215.2,164.8 215.3,162.8 215.4,163.2 215.5,163.4 215.6,162.7 215.7,163.9 215.8,163.4 215.9,163.1 216.0,163.5 216.1,162.8 216.2,163.9 216.3,164.3 216.4,163.8 216.5,163.5 216.6,164.3 216.7,162.5 216.8,163.7 216.9,164.4 217.0,164.1 217.1,163.9 217.2,163.3 217.3,163.6 217.3,163.7 217.4,163.6 217.5,164.0 217.6,163.3 217.7,164.2 217.8,163.4 217.9,163.5 218.0,164.3 218.1,163.1 218.2,164.1 218.3,164.0 218.4,163.1 218.5,163.8 218.6,164.0 218.7,164.1 218.8,165.1 218.9,163.8 219.0,164.6 219.1,163.9" fill="none" stroke="#3659c2" stroke-width="0.95" stroke-linejoin="round"/>
<polyline points="36.3,163.6 36.4,164.0 36.5,163.7 36.6,163.3 36.7,163.0 36.8,162.7 36.9,163.3 37.0,163.1 37.1,163.2 37.2,162.0 37.3,162.5 37.4,163.5 37.5,162.9 37.6,163.1 37.6,163.5 37.7,163.7 37.8,163.5 37.9,163.0 38.0,164.2 38.1,163.0 38.2,163.5 38.3,163.2 38.4,163.2 38.5,163.6 38.6,164.0 38.7,163.3 38.8,164.2 38.9,164.8 39.0,164.8 39.1,163.2 39.2,162.9 39.3,163.1 39.4,164.0 39.5,163.6 39.6,162.7 39.7,163.9 39.8,163.7 39.9,163.5 40.0,163.9 40.1,163.7 40.1,164.1 40.2,164.4 40.3,163.6 40.4,163.9 40.5,163.0 40.6,163.3 40.7,163.8 40.8,164.8 40.9,164.7 41.0,163.1 41.1,162.9 41.2,163.1 41.3,164.2 41.4,163.4 41.5,163.7 41.6,163.7 41.7,163.2 41.8,163.5 41.9,162.6 42.0,163.6 42.1,163.9 42.2,163.6 42.3,164.4 42.4,164.5 42.5,164.0 42.6,164.3 42.6,163.4 42.7,164.3 42.8,164.2 42.9,163.9 43.0,163.4 43.1,163.6 43.2,163.2 43.3,164.8 43.4,164.2 43.5,164.5 43.6,164.6 43.7,163.9 43.8,163.4 43.9,163.2 44.0,163.4 44.1,163.3 44.2,164.4 44.3,164.5 44.4,164.0 44.5,165.0 44.6,164.3 44.7,164.8 44.8,164.0 44.9,163.7 45.0,163.9 45.1,165.2 45.2,164.4 45.2,164.2 45.3,163.4 45.4,164.2 45.5,163.8 45.6,164.3 45.7,163.3 45.8,164.5 45.9,163.7 46.0,164.9 46.1,164.2 46.2,164.8 46.3,164.7 46.4,163.5 46.5,164.7 46.6,165.3 46.7,164.6 46.8,164.8 46.9,163.9 47.0,163.5 47.1,163.8 47.2,165.3 47.3,164.8 47.4,163.8 47.5,164.0 47.6,164.1 47.7,165.2 47.7,164.4 47.8,164.6 47.9,163.6 48.0,164.5 48.1,163.6 48.2,165.1 48.3,164.6 48.4,164.8 48.5,164.4 48.6,164.5 48.7,164.2 48.8,165.5 48.9,164.8 49.0,164.7 49.1,164.3 49.2,165.1 49.3,163.5 49.4,163.4 49.5,164.1 49.6,164.6 49.7,164.5 49.8,164.3 49.9,164.2 50.0,163.7 50.1,165.2 50.2,164.1 50.2,163.3 50.3,164.5 50.4,164.3 50.5,163.7 50.6,163.5 50.7,163.7 50.8,164.6 50.9,163.5 51.0,164.7 51.1,163.6 51.2,163.9 51.3,164.5 51.4,164.6 51.5,163.7 51.6,163.4 51.7,162.8 51.8,163.0 51.9,162.9 52.0,163.6 52.1,162.3 52.2,162.8 52.3,160.0 52.4,159.0 52.5,154.6 52.6,150.7 52.7,144.1 52.8,135.1 52.8,124.1 52.9,116.0 53.0,108.4 53.1,105.1 53.2,108.3 53.3,114.6 53.4,123.4 53.5,135.2 53.6,143.1 53.7,150.8 53.8,155.4 53.9,158.5 54.0,161.8 54.1,162.1 54.2,162.5 54.3,163.1 54.4,163.8 54.5,163.5 54.6,164.1 54.7,163.5 54.8,164.0 54.9,164.2 55.0,163.7 55.1,164.9 55.2,164.9 55.3,163.8 55.3,163.8 55.4,163.8 55.5,164.6 55.6,164.6 55.7,165.3 55.8,164.8 55.9,163.4 56.0,164.3 56.1,165.2 56.2,164.5 56.3,164.3 56.4,164.1 56.5,165.2 56.6,165.2 56.7,164.7 56.8,164.3 56.9,164.7 57.0,163.6 57.1,164.2 57.2,164.2 57.3,165.0 57.4,165.3 57.5,165.3 57.6,163.2 57.7,165.0 57.8,163.9 57.8,163.8 57.9,165.2 58.0,165.2 58.1,164.8 58.2,165.0 58.3,164.4 58.4,165.9 58.5,164.5 58.6,164.7 58.7,163.5 58.8,165.0 58.9,166.0 59.0,165.9 59.1,164.4 59.2,164.6 59.3,164.8 59.4,165.1 59.5,165.1 59.6,164.7 59.7,166.4 59.8,165.9 59.9,166.0 60.0,164.9 60.1,164.5 60.2,164.8 60.3,163.6 60.3,165.3 60.4,165.0 60.5,164.7 60.6,165.2 60.7,163.7 60.8,164.7 60.9,164.7 61.0,165.3 61.1,164.4 61.2,164.9 61.3,165.7 61.4,164.8 61.5,165.6 61.6,164.8 61.7,165.5 61.8,165.4 61.9,165.3 62.0,165.3 62.1,164.8 62.2,164.7 62.3,165.4 62.4,164.2 62.5,165.3 62.6,164.0 62.7,164.2 62.8,164.5 62.9,165.6 62.9,165.1 63.0,163.9 63.1,165.3 63.2,163.8 63.3,164.8 63.4,165.1 63.5,165.8 63.6,163.6 63.7,164.8 63.8,165.3 63.9,166.0 64.0,164.4 64.1,164.6 64.2,164.9 64.3,165.1 64.4,165.5 64.5,165.3 64.6,165.4 64.7,165.8 64.8,164.9 64.9,165.0 65.0,165.2 65.1,166.3 65.2,165.7 65.3,164.7 65.4,165.0 65.4,165.3 65.5,165.0 65.6,164.5 65.7,164.9 65.8,164.4 65.9,165.2 66.0,164.7 66.1,165.0 66.2,165.7 66.3,165.0 66.4,165.3 66.5,164.7 66.6,164.8 66.7,165.1 66.8,164.3 66.9,165.9 67.0,164.5 67.1,165.6 67.2,165.4 67.3,164.5 67.4,164.9 67.5,164.4 67.6,165.1 67.7,164.9 67.8,164.0 67.9,164.9 67.9,164.0 68.0,165.1 68.1,164.6 68.2,164.7 68.3,164.2 68.4,164.6 68.5,164.9 68.6,165.5 68.7,163.6 68.8,164.4 68.9,164.8 69.0,165.2 69.1,164.0 69.2,165.8 69.3,165.1 69.4,164.2 69.5,164.3 69.6,164.8 69.7,164.4 69.8,163.6 69.9,164.9 70.0,165.3 70.1,164.8 70.2,165.1 70.3,164.3 70.4,164.6 70.5,164.2 70.5,166.0 70.6,165.0 70.7,164.4 70.8,165.3 70.9,164.6 71.0,165.0 71.1,165.4 71.2,164.8 71.3,164.3 71.4,165.0 71.5,164.9 71.6,164.6 71.7,164.5 71.8,164.7 71.9,164.6 72.0,165.6 72.1,164.9 72.2,165.1 72.3,163.5 72.4,165.0 72.5,164.1 72.6,165.3 72.7,165.4 72.8,164.6 72.9,164.8 73.0,164.6 73.0,164.6 73.1,164.3 73.2,164.4 73.3,165.7 73.4,165.0 73.5,164.3 73.6,165.3 73.7,165.3 73.8,164.9 73.9,164.6 74.0,164.3 74.1,164.9 74.2,164.5 74.3,165.0 74.4,165.0 74.5,164.2 74.6,164.8 74.7,164.7 74.8,165.1 74.9,164.6 75.0,164.1 75.1,166.1 75.2,165.0 75.3,164.6 75.4,164.6 75.5,163.7 75.5,164.1 75.6,163.5 75.7,164.1 75.8,164.2 75.9,163.5 76.0,165.4 76.1,163.6 76.2,165.2 76.3,164.5 76.4,164.1 76.5,164.6 76.6,165.9 76.7,164.3 76.8,165.7 76.9,164.8 77.0,165.4 77.1,164.4 77.2,164.8 77.3,164.8 77.4,165.4 77.5,165.1 77.6,164.9 77.7,164.4 77.8,164.3 77.9,164.1 78.0,164.0 78.1,164.8 78.1,164.5 78.2,163.9 78.3,164.6 78.4,165.7 78.5,164.1 78.6,164.1 78.7,164.1 78.8,164.4 78.9,164.9 79.0,164.4 79.1,163.8 79.2,163.7 79.3,164.2 79.4,163.5 79.5,164.2 79.6,164.1 79.7,164.0 79.8,163.4 79.9,164.0 80.0,164.0 80.1,164.7 80.2,164.5 80.3,163.7 80.4,164.3 80.5,163.0 80.6,163.3 80.6,163.8 80.7,162.1 80.8,160.9 80.9,158.5 81.0,157.2 81.1,154.7 81.2,151.1 81.3,147.4 81.4,144.8 81.5,144.2 81.6,145.4 81.7,147.4 81.8,151.6 81.9,154.1 82.0,157.2 82.1,158.8 82.2,161.4 82.3,162.7 82.4,162.4 82.5,163.4 82.6,164.8 82.7,164.2 82.8,163.8 82.9,163.8 83.0,163.8 83.1,163.6 83.1,162.8 83.2,163.3 83.3,164.1 83.4,164.2 83.5,164.3 83.6,163.6 83.7,163.6 83.8,163.6 83.9,162.6 84.0,163.8 84.1,164.6 84.2,163.7 84.3,163.5 84.4,164.5 84.5,164.8 84.6,163.7 84.7,164.3 84.8,163.9 84.9,163.8 85.0,164.1 85.1,164.1 85.2,163.9 85.3,164.1 85.4,163.8 85.5,164.3 85.6,163.8 85.7,163.9 85.7,164.1 85.8,163.1 85.9,163.2 86.0,164.4 86.1,163.1 86.2,163.6 86.3,163.6 86.4,163.5 86.5,163.4 86.6,162.6 86.7,163.5 86.8,163.4 86.9,163.0 87.0,162.1 87.1,162.1 87.2,162.0 87.3,161.3 87.4,160.8 87.5,160.9 87.6,160.9 87.7,160.2 87.8,159.7 87.9,159.9 88.0,159.2 88.1,159.6 88.2,159.6 88.2,159.2 88.3,160.2 88.4,160.2 88.5,160.7 88.6,161.3 88.7,161.4 88.8,161.7 88.9,161.5 89.0,162.1 89.1,162.5 89.2,162.7 89.3,163.3 89.4,162.7 89.5,161.5 89.6,163.3 89.7,163.8 89.8,163.6 89.9,162.5 90.0,163.0 90.1,162.2 90.2,163.8 90.3,163.4 90.4,164.1 90.5,162.4 90.6,163.4 90.7,162.7 90.7,162.4 90.8,163.0 90.9,161.9 91.0,162.8 91.1,162.0 91.2,163.5 91.3,163.7 91.4,162.9 91.5,162.4 91.6,164.7 91.7,163.3 91.8,163.3 91.9,163.9 92.0,162.4 92.1,163.0 92.2,163.5 92.3,163.5 92.4,163.4 92.5,162.7 92.6,163.1 92.7,162.7 92.8,162.5 92.9,163.0 93.0,162.6 93.1,163.3 93.2,162.9 93.3,162.7 93.3,163.2 93.4,162.8 93.5,163.4 93.6,162.1 93.7,162.6 93.8,162.8 93.9,163.0 94.0,163.9 94.1,162.1 94.2,163.5 94.3,162.6 94.4,163.3 94.5,162.3 94.6,162.5 94.7,162.4 94.8,163.1 94.9,163.4 95.0,162.4 95.1,162.9 95.2,162.2 95.3,162.8 95.4,161.2 95.5,163.3 95.6,162.1 95.7,162.6 95.8,162.8 95.8,162.9 95.9,161.9 96.0,163.0 96.1,162.3 96.2,162.0 96.3,161.5 96.4,162.1 96.5,162.5 96.6,162.8 96.7,161.5 96.8,162.2 96.9,162.3 97.0,160.8 97.1,160.8 97.2,160.8 97.3,160.3 97.4,158.3 97.5,155.8 97.6,154.9 97.7,149.9 97.8,144.4 97.9,140.1 98.0,136.7 98.1,134.0 98.2,134.0 98.3,136.9 98.3,140.3 98.4,143.6 98.5,149.5 98.6,153.7 98.7,156.0 98.8,159.5 98.9,159.2 99.0,159.2 99.1,160.5 99.2,160.8 99.3,161.2 99.4,161.7 99.5,161.8 99.6,161.0 99.7,162.0 99.8,161.5 99.9,161.5 100.0,160.9 100.1,162.3 100.2,161.3 100.3,161.4 100.4,161.4 100.5,161.4 100.6,162.3 100.7,161.7 100.8,162.2 100.9,161.1 100.9,161.3 101.0,160.8 101.1,161.6 101.2,161.8 101.3,160.4 101.4,160.9 101.5,159.5 101.6,160.9 101.7,160.9 101.8,160.0 101.9,159.8 102.0,157.8 102.1,155.4 102.2,152.3 102.3,148.3 102.4,145.8 102.5,140.0 102.6,137.8 102.7,135.6 102.8,136.8 102.9,141.3 103.0,145.3 103.1,149.8 103.2,153.2 103.3,156.4 103.4,157.8 103.4,159.3 103.5,160.5 103.6,160.9 103.7,160.8 103.8,161.3 103.9,160.1 104.0,160.8 104.1,160.5 104.2,162.0 104.3,161.5 104.4,161.4 104.5,161.0 104.6,160.7 104.7,161.0 104.8,161.2 104.9,161.5 105.0,160.9 105.1,162.6 105.2,160.0 105.3,160.2 105.4,160.7 105.5,161.1 105.6,161.2 105.7,160.9 105.8,160.6 105.9,160.8 105.9,160.5 106.0,160.5 106.1,162.5 106.2,161.6 106.3,161.2 106.4,161.4 106.5,161.2 106.6,161.4 106.7,161.1 106.8,161.5 106.9,160.9 107.0,161.6 107.1,161.2 107.2,161.3 107.3,161.2 107.4,161.2 107.5,160.4 107.6,161.0 107.7,160.8 107.8,161.3 107.9,161.4 108.0,160.5 108.1,159.6 108.2,161.3 108.3,161.7 108.4,162.0 108.4,160.1 108.5,160.7 108.6,160.0 108.7,161.2 108.8,160.8 108.9,162.1 109.0,160.5 109.1,159.8 109.2,160.6 109.3,160.3 109.4,160.1 109.5,160.9 109.6,161.3 109.7,160.2 109.8,161.5 109.9,160.2 110.0,160.6 110.1,160.7 110.2,161.5 110.3,160.8 110.4,160.6 110.5,160.4 110.6,160.2 110.7,161.5 110.8,160.7 110.9,160.6 111.0,159.8 111.0,160.9 111.1,161.0 111.2,160.3 111.3,160.9 111.4,160.5 111.5,161.0 111.6,160.5 111.7,161.2 111.8,161.0 111.9,159.6 112.0,161.2 112.1,159.8 112.2,160.7 112.3,160.5 112.4,160.6 112.5,160.1 112.6,160.4 112.7,160.4 112.8,161.1 112.9,160.8 113.0,160.7 113.1,161.0 113.2,159.4 113.3,160.3 113.4,160.5 113.5,161.5 113.5,160.8 113.6,160.3 113.7,160.2 113.8,160.5 113.9,160.7 114.0,160.5 114.1,160.8 114.2,159.2 114.3,159.9 114.4,160.8 114.5,159.8 114.6,160.1 114.7,159.5 114.8,161.0 114.9,160.0 115.0,160.2 115.1,160.5 115.2,160.3 115.3,160.9 115.4,159.8 115.5,160.4 115.6,159.4 115.7,159.9 115.8,160.4 115.9,161.2 116.0,160.4 116.0,159.9 116.1,159.7 116.2,161.2 116.3,160.7 116.4,161.2 116.5,160.8 116.6,160.3 116.7,160.5 116.8,160.1 116.9,160.8 117.0,160.7 117.1,160.4 117.2,160.6 117.3,160.4 117.4,161.1 117.5,159.5 117.6,159.9 117.7,159.5 117.8,160.0 117.9,160.0 118.0,159.4 118.1,159.6 118.2,159.2 118.3,160.0 118.4,159.9 118.5,159.7 118.6,160.1 118.6,158.5 118.7,160.2 118.8,158.7 118.9,159.9 119.0,159.8 119.1,159.1 119.2,159.9 119.3,158.4 119.4,159.2 119.5,159.5 119.6,159.4 119.7,159.7 119.8,158.7 119.9,158.7 120.0,157.9 120.1,158.0 120.2,158.9 120.3,157.3 120.4,155.8 120.5,156.6 120.6,155.1 120.7,151.7 120.8,149.8 120.9,142.2 121.0,136.2 121.1,124.0 121.1,110.5 121.2,94.9 121.3,81.3 121.4,66.8 121.5,61.5 121.6,61.6 121.7,68.8 121.8,80.7 121.9,95.8 122.0,111.1 122.1,123.6 122.2,134.6 122.3,142.6 122.4,148.9 122.5,152.9 122.6,155.2 122.7,156.8 122.8,156.6 122.9,157.0 123.0,158.4 123.1,158.6 123.2,159.4 123.3,159.6 123.4,160.6 123.5,160.0 123.6,159.7 123.6,158.9 123.7,159.6 123.8,160.2 123.9,160.2 124.0,160.3 124.1,159.9 124.2,160.1 124.3,159.8 124.4,159.3 124.5,159.6 124.6,159.9 124.7,160.8 124.8,159.8 124.9,161.0 125.0,161.2 125.1,160.3 125.2,160.8 125.3,160.2 125.4,160.6 125.5,160.3 125.6,160.7 125.7,160.5 125.8,161.0 125.9,161.1 126.0,160.9 126.1,161.2 126.2,161.6 126.2,162.4 126.3,161.4 126.4,161.3 126.5,160.4 126.6,161.2 126.7,160.0 126.8,160.8 126.9,161.4 127.0,161.1 127.1,161.6 127.2,160.9 127.3,161.3 127.4,161.7 127.5,161.2 127.6,161.7 127.7,161.2 127.8,162.1 127.9,160.8 128.0,161.4 128.1,160.8 128.2,161.1 128.3,162.0 128.4,161.0 128.5,161.1 128.6,160.9 128.7,160.9 128.7,161.2 128.8,161.8 128.9,160.9 129.0,160.5 129.1,161.6 129.2,160.6 129.3,160.3 129.4,159.0 129.5,159.4 129.6,158.5 129.7,157.5 129.8,157.2 129.9,157.6 130.0,155.2 130.1,154.2 130.2,153.9 130.3,154.7 130.4,154.0 130.5,152.3 130.6,154.2 130.7,153.3 130.8,153.4 130.9,153.6 131.0,154.4 131.1,155.6 131.2,155.8 131.2,156.4 131.3,157.0 131.4,156.9 131.5,157.9 131.6,158.8 131.7,158.4 131.8,159.9 131.9,160.3 132.0,159.8 132.1,160.1 132.2,159.5 132.3,160.4 132.4,159.6 132.5,161.1 132.6,161.7 132.7,160.5 132.8,161.1 132.9,161.0 133.0,160.1 133.1,160.5 133.2,161.7 133.3,161.0 133.4,161.3 133.5,160.6 133.6,160.8 133.7,160.3 133.8,161.6 133.8,160.8 133.9,161.8 134.0,160.8 134.1,159.9 134.2,160.3 134.3,160.7 134.4,160.4 134.5,160.9 134.6,160.8 134.7,160.9 134.8,160.9 134.9,161.2 135.0,160.8 135.1,161.3 135.2,161.4 135.3,160.5 135.4,161.1 135.5,161.0 135.6,159.9 135.7,160.4 135.8,161.7 135.9,159.7 136.0,161.1 136.1,159.9 136.2,160.5 136.3,161.1 136.3,161.5 136.4,160.8 136.5,160.1 136.6,159.8 136.7,159.8 136.8,159.4 136.9,159.3 137.0,158.8 137.1,158.3 137.2,158.1 137.3,157.1 137.4,156.4 137.5,153.3 137.6,149.4 137.7,142.8 137.8,134.3 137.9,123.8 138.0,110.8 138.1,98.0 138.2,89.1 138.3,84.2 138.4,88.0 138.5,97.7 138.6,110.2 138.7,123.8 138.8,134.6 138.8,142.9 138.9,149.9 139.0,154.5 139.1,156.0 139.2,157.3 139.3,158.5 139.4,159.3 139.5,158.8 139.6,160.1 139.7,159.5 139.8,158.7 139.9,160.5 140.0,159.5 140.1,160.6 140.2,160.3 140.3,160.6 140.4,160.2 140.5,160.8 140.6,161.9 140.7,160.2 140.8,160.5 140.9,161.3 141.0,160.4 141.1,161.4 141.2,160.3 141.3,160.4 141.4,160.8 141.4,160.4 141.5,160.2 141.6,161.4 141.7,161.6 141.8,162.0 141.9,160.8 142.0,159.6 142.1,160.9 142.2,162.0 142.3,159.7 142.4,161.8 142.5,161.3 142.6,160.8 142.7,161.0 142.8,159.9 142.9,160.9 143.0,161.4 143.1,161.6 143.2,161.4 143.3,160.4 143.4,161.2 143.5,160.6 143.6,161.4 143.7,160.6 143.8,160.7 143.9,161.5 143.9,160.3 144.0,160.2 144.1,161.2 144.2,162.1 144.3,160.9 144.4,160.9 144.5,159.9 144.6,160.0 144.7,161.2 144.8,161.4 144.9,160.7 145.0,161.1 145.1,160.7 145.2,161.3 145.3,159.8 145.4,160.7 145.5,160.9 145.6,161.0 145.7,161.5 145.8,162.2 145.9,160.4 146.0,161.4 146.1,160.3 146.2,161.7 146.3,162.1 146.4,161.0 146.4,160.7 146.5,160.5 146.6,161.7 146.7,160.1 146.8,160.5 146.9,160.6 147.0,162.4 147.1,160.8 147.2,162.4 147.3,161.0 147.4,160.4 147.5,160.6 147.6,160.6 147.7,160.6 147.8,160.5 147.9,161.2 148.0,161.5 148.1,160.7 148.2,159.3 148.3,160.6 148.4,161.9 148.5,161.7 148.6,160.3 148.7,160.3 148.8,160.7 148.9,161.8 149.0,161.7 149.0,160.3 149.1,160.1 149.2,161.3 149.3,160.8 149.4,161.2 149.5,161.5 149.6,161.2 149.7,160.5 149.8,159.9 149.9,160.0 150.0,160.0 150.1,160.7 150.2,160.5 150.3,160.9 150.4,159.5 150.5,160.8 150.6,159.7 150.7,160.2 150.8,159.7 150.9,160.2 151.0,159.3 151.1,159.2 151.2,159.3 151.3,157.6 151.4,158.1 151.5,158.0 151.5,157.7 151.6,156.9 151.7,156.0 151.8,156.8 151.9,155.9 152.0,156.9 152.1,156.4 152.2,155.5 152.3,155.4 152.4,156.4 152.5,154.0 152.6,155.2 152.7,155.1 152.8,154.6 152.9,154.5 153.0,152.0 153.1,151.9 153.2,150.6 153.3,148.7 153.4,147.2 153.5,144.7 153.6,141.8 153.7,138.8 153.8,136.6 153.9,134.5 154.0,132.8 154.0,129.9 154.1,130.7 154.2,131.4 154.3,132.9 154.4,135.2 154.5,137.5 154.6,141.3 154.7,144.0 154.8,146.2 154.9,151.0 155.0,152.2 155.1,154.9 155.2,156.1 155.3,157.7 155.4,157.9 155.5,159.5 155.6,159.3 155.7,159.5 155.8,160.1 155.9,160.5 156.0,161.1 156.1,160.5 156.2,159.7 156.3,160.6 156.4,159.6 156.5,160.1 156.5,161.0 156.6,162.0 156.7,160.4 156.8,161.1 156.9,161.2 157.0,162.1 157.1,161.4 157.2,161.1 157.3,162.1 157.4,161.3 157.5,160.0 157.6,161.2 157.7,161.8 157.8,161.1 157.9,161.8 158.0,161.1 158.1,160.5 158.2,161.0 158.3,162.2 158.4,160.9 158.5,162.7 158.6,161.1 158.7,162.7 158.8,161.8 158.9,161.2 159.0,161.7 159.1,160.9 159.1,161.9 159.2,161.0 159.3,160.8 159.4,161.1 159.5,161.9 159.6,161.7 159.7,161.5 159.8,159.8 159.9,161.2 160.0,162.5 160.1,161.6 160.2,161.7 160.3,161.8 160.4,160.6 160.5,161.4 160.6,161.9 160.7,162.3 160.8,162.1 160.9,161.4 161.0,161.8 161.1,161.5 161.2,162.3 161.3,161.4 161.4,161.6 161.5,161.7 161.6,162.9 161.6,161.4 161.7,162.0 161.8,162.9 161.9,161.0 162.0,162.2 162.1,161.9 162.2,162.1 162.3,161.2 162.4,161.1 162.5,161.3 162.6,160.7 162.7,162.3 162.8,161.3 162.9,160.8 163.0,161.3 163.1,161.8 163.2,161.9 163.3,160.9 163.4,161.7 163.5,160.6 163.6,161.3 163.7,161.9 163.8,160.1 163.9,162.5 164.0,160.7 164.1,159.9 164.1,159.8 164.2,159.6 164.3,159.4 164.4,159.5 164.5,159.4 164.6,160.0 164.7,159.2 164.8,158.6 164.9,158.5 165.0,159.4 165.1,158.6 165.2,157.9 165.3,159.3 165.4,160.3 165.5,160.6 165.6,159.6 165.7,160.0 165.8,160.3 165.9,161.1 166.0,161.5 166.1,161.2 166.2,161.2 166.3,161.2 166.4,160.6 166.5,160.9 166.6,161.4 166.7,162.2 166.7,161.4 166.8,162.6 166.9,160.8 167.0,161.2 167.1,162.0 167.2,161.6 167.3,162.5 167.4,161.2 167.5,163.2 167.6,162.2 167.7,161.2 167.8,162.1 167.9,161.0 168.0,161.9 168.1,160.8 168.2,161.6 168.3,162.1 168.4,162.0 168.5,162.1 168.6,161.7 168.7,161.9 168.8,163.1 168.9,161.9 169.0,161.0 169.1,161.4 169.2,162.4 169.2,161.9 169.3,162.6 169.4,162.9 169.5,162.6 169.6,161.9 169.7,161.3 169.8,163.0 169.9,161.5 170.0,161.5 170.1,160.9 170.2,162.4 170.3,161.1 170.4,161.0 170.5,162.7 170.6,163.1 170.7,163.5 170.8,160.8 170.9,162.1 171.0,162.5 171.1,162.3 171.2,162.1 171.3,162.3 171.4,162.8 171.5,162.3 171.6,161.4 171.7,161.8 171.7,162.4 171.8,162.6 171.9,162.0 172.0,162.0 172.1,162.5 172.2,161.3 172.3,162.3 172.4,161.7 172.5,162.2 172.6,162.4 172.7,161.8 172.8,162.2 172.9,162.4 173.0,161.3 173.1,161.6 173.2,161.8 173.3,163.3 173.4,162.5 173.5,162.5 173.6,162.2 173.7,161.2 173.8,162.0 173.9,161.8 174.0,161.8 174.1,163.2 174.2,162.2 174.3,161.8 174.3,161.8 174.4,162.3 174.5,162.9 174.6,163.4 174.7,161.9 174.8,162.1 174.9,162.6 175.0,162.4 175.1,161.6 175.2,162.3 175.3,161.5 175.4,162.6 175.5,162.3 175.6,161.8 175.7,162.9 175.8,162.3 175.9,161.8 176.0,162.4 176.1,162.4 176.2,161.8 176.3,162.2 176.4,163.1 176.5,162.5 176.6,162.4 176.7,162.8 176.8,162.8 176.8,162.1 176.9,162.7 177.0,162.7 177.1,161.3 177.2,161.0 177.3,162.2 177.4,162.1 177.5,163.2 177.6,162.7 177.7,162.1 177.8,162.5 177.9,161.5 178.0,161.4 178.1,161.1 178.2,161.8 178.3,162.5 178.4,161.7 178.5,163.2 178.6,161.1 178.7,163.1 178.8,161.0 178.9,162.0 179.0,161.2 179.1,163.0 179.2,162.0 179.3,162.1 179.3,162.2 179.4,162.1 179.5,161.3 179.6,160.7 179.7,160.1 179.8,160.2 179.9,157.4 180.0,154.6 180.1,152.3 180.2,145.2 180.3,141.7 180.4,136.7 180.5,132.6 180.6,129.8 180.7,133.1 180.8,136.6 180.9,141.8 181.0,146.8 181.1,150.7 181.2,155.0 181.3,157.5 181.4,158.3 181.5,161.0 181.6,161.0 181.7,160.7 181.8,162.0 181.9,161.5 181.9,162.8 182.0,162.3 182.1,163.0 182.2,162.6 182.3,161.6 182.4,162.4 182.5,161.2 182.6,162.7 182.7,162.0 182.8,162.4 182.9,162.5 183.0,161.2 183.1,162.2 183.2,162.0 183.3,161.7 183.4,162.9 183.5,162.0 183.6,162.4 183.7,161.6 183.8,162.0 183.9,162.4 184.0,162.1 184.1,163.3 184.2,162.9 184.3,162.7 184.4,162.2 184.4,162.5 184.5,161.1 184.6,163.0 184.7,163.1 184.8,161.9 184.9,163.5 185.0,162.1 185.1,163.6 185.2,162.0 185.3,161.6 185.4,162.4 185.5,163.7 185.6,161.5 185.7,162.5 185.8,162.3 185.9,163.1 186.0,163.0 186.1,162.4 186.2,162.3 186.3,163.4 186.4,162.0 186.5,163.4 186.6,162.9 186.7,162.3 186.8,161.9 186.9,162.6 186.9,162.6 187.0,162.3 187.1,162.5 187.2,161.7 187.3,163.5 187.4,163.1 187.5,162.7 187.6,163.3 187.7,162.0 187.8,163.1 187.9,163.0 188.0,163.0 188.1,163.2 188.2,162.3 188.3,162.7 188.4,162.6 188.5,162.8 188.6,161.7 188.7,163.1 188.8,162.2 188.9,162.7 189.0,162.6 189.1,162.9 189.2,163.2 189.3,162.0 189.4,163.3 189.5,160.9 189.5,160.9 189.6,160.3 189.7,158.7 189.8,157.2 189.9,157.3 190.0,155.7 190.1,154.6 190.2,153.6 190.3,153.5 190.4,155.1 190.5,157.1 190.6,157.7 190.7,159.7 190.8,160.9 190.9,161.2 191.0,161.4 191.1,161.6 191.2,163.8 191.3,162.0 191.4,161.8 191.5,162.0 191.6,161.6 191.7,163.2 191.8,162.0 191.9,161.0 192.0,159.8 192.0,158.6 192.1,157.1 192.2,153.3 192.3,152.4 192.4,149.0 192.5,147.4 192.6,147.2 192.7,147.3 192.8,149.5 192.9,151.8 193.0,155.2 193.1,157.7 193.2,159.2 193.3,160.7 193.4,160.8 193.5,161.6 193.6,162.3 193.7,163.0 193.8,162.0 193.9,162.6 194.0,162.5 194.1,162.8 194.2,162.6 194.3,162.5 194.4,163.1 194.5,164.1 194.5,163.1 194.6,162.4 194.7,162.5 194.8,162.6 194.9,163.0 195.0,162.6 195.1,163.4 195.2,163.2 195.3,162.1 195.4,162.5 195.5,163.4 195.6,162.7 195.7,162.6 195.8,163.3 195.9,162.8 196.0,163.2 196.1,162.7 196.2,163.0 196.3,161.8 196.4,164.2 196.5,163.4 196.6,162.4 196.7,163.7 196.8,163.8 196.9,163.2 197.0,162.1 197.1,163.1 197.1,163.0 197.2,163.5 197.3,164.1 197.4,163.6 197.5,162.9 197.6,164.5 197.7,163.5 197.8,163.7 197.9,163.8 198.0,163.0 198.1,163.2 198.2,164.0 198.3,164.3 198.4,163.3 198.5,163.4 198.6,164.5 198.7,163.7 198.8,163.5 198.9,162.8 199.0,162.2 199.1,163.4 199.2,163.5 199.3,162.6 199.4,162.9 199.5,163.0 199.6,162.6 199.6,164.0 199.7,163.8 199.8,164.6 199.9,163.9 200.0,162.0 200.1,163.2 200.2,163.2 200.3,164.1 200.4,163.0 200.5,163.6 200.6,163.2 200.7,162.5 200.8,163.3 200.9,163.6 201.0,162.6 201.1,163.3 201.2,162.7 201.3,163.2 201.4,163.3 201.5,163.0 201.6,162.9 201.7,163.4 201.8,162.6 201.9,162.2 202.0,162.5 202.1,163.0 202.1,163.1 202.2,163.3 202.3,163.7 202.4,163.2 202.5,162.5 202.6,162.8 202.7,163.2 202.8,164.7 202.9,163.1 203.0,164.0 203.1,162.7 203.2,163.3 203.3,163.3 203.4,163.9 203.5,163.7 203.6,162.4 203.7,163.3 203.8,163.7 203.9,163.0 204.0,162.1 204.1,163.5 204.2,161.4 204.3,163.5 204.4,163.4 204.5,161.6 204.6,163.2 204.7,163.3 204.7,162.7 204.8,163.2 204.9,162.5 205.0,163.2 205.1,162.9 205.2,164.0 205.3,162.5 205.4,162.2 205.5,163.6 205.6,163.6 205.7,162.9 205.8,163.7 205.9,162.8 206.0,163.0 206.1,162.4 206.2,163.7 206.3,162.6 206.4,163.5 206.5,162.8 206.6,163.6 206.7,164.2 206.8,163.7 206.9,163.6 207.0,163.1 207.1,162.9 207.2,162.8 207.2,163.5 207.3,162.8 207.4,162.6 207.5,164.1 207.6,162.7 207.7,163.1 207.8,163.8 207.9,163.4 208.0,163.3 208.1,163.1 208.2,163.2 208.3,164.7 208.4,164.4 208.5,162.9 208.6,163.5 208.7,163.2 208.8,163.1 208.9,163.9 209.0,163.8 209.1,163.0 209.2,163.1 209.3,163.5 209.4,162.9 209.5,163.1 209.6,163.4 209.7,163.6 209.7,164.9 209.8,163.5 209.9,163.8 210.0,163.4 210.1,163.9 210.2,162.6 210.3,164.0 210.4,163.1 210.5,163.5 210.6,162.3 210.7,164.3 210.8,163.7 210.9,163.6 211.0,162.7 211.1,162.7 211.2,163.4 211.3,163.9 211.4,163.4 211.5,163.0 211.6,162.6 211.7,163.8 211.8,164.3 211.9,163.4 212.0,164.4 212.1,162.8 212.2,162.3 212.2,162.5 212.3,161.5 212.4,161.5 212.5,160.8 212.6,158.1 212.7,159.9 212.8,159.5 212.9,160.1 213.0,160.1 213.1,160.0 213.2,160.6 213.3,160.9 213.4,162.3 213.5,163.0 213.6,163.3 213.7,163.0 213.8,164.0 213.9,162.3 214.0,163.5 214.1,163.3 214.2,164.0 214.3,163.9 214.4,162.9 214.5,163.2 214.6,163.4 214.7,164.0 214.8,164.0 214.8,162.9 214.9,164.5 215.0,164.3 215.1,163.6 215.2,163.0 215.3,162.7 215.4,161.9 215.5,164.3 215.6,162.9 215.7,163.8 215.8,163.7 215.9,163.3 216.0,163.8 216.1,162.3 216.2,163.4 216.3,163.6 216.4,163.4 216.5,163.0 216.6,163.0 216.7,163.8 216.8,164.3 216.9,164.1 217.0,163.5 217.1,163.4 217.2,163.8 217.3,162.7 217.3,163.1 217.4,163.0 217.5,164.3 217.6,162.4 217.7,163.7 217.8,163.8 217.9,163.4 218.0,163.8 218.1,163.8 218.2,163.9 218.3,163.6 218.4,163.6 218.5,163.8 218.6,163.2 218.7,164.9 218.8,163.2 218.9,163.2 219.0,163.3 219.1,163.7" fill="none" stroke="#38ae60" stroke-width="0.95" stroke-linejoin="round"/>
<rect x="36.30" y="24.00" width="182.50" height="146.70" fill="none" stroke="#303030" stroke-width="1.5" stroke-linejoin="round"/>
<line x1="60.35" y1="170.70" x2="60.35" y2="168.50" stroke="#303030" stroke-width="1.0"/>
<line x1="84.40" y1="170.70" x2="84.40" y2="167.90" stroke="#303030" stroke-width="1.0"/>
<line x1="108.45" y1="170.70" x2="108.45" y2="168.50" stroke="#303030" stroke-width="1.0"/>
<line x1="132.50" y1="170.70" x2="132.50" y2="167.90" stroke="#303030" stroke-width="1.0"/>
<line x1="156.55" y1="170.70" x2="156.55" y2="168.50" stroke="#303030" stroke-width="1.0"/>
<line x1="180.60" y1="170.70" x2="180.60" y2="167.90" stroke="#303030" stroke-width="1.0"/>
<line x1="204.65" y1="170.70" x2="204.65" y2="168.50" stroke="#303030" stroke-width="1.0"/>
<line x1="36.30" y1="148.14" x2="38.50" y2="148.14" stroke="#303030" stroke-width="1.0"/>
<line x1="36.30" y1="125.58" x2="39.10" y2="125.58" stroke="#303030" stroke-width="1.0"/>
<line x1="36.30" y1="103.02" x2="38.50" y2="103.02" stroke="#303030" stroke-width="1.0"/>
<line x1="36.30" y1="80.46" x2="39.10" y2="80.46" stroke="#303030" stroke-width="1.0"/>
<line x1="36.30" y1="57.90" x2="38.50" y2="57.90" stroke="#303030" stroke-width="1.0"/>
<line x1="36.30" y1="35.34" x2="39.10" y2="35.34" stroke="#303030" stroke-width="1.0"/>
<text transform="translate(36.30,187.40) scale(1.08,1)" font-size="12.8" text-anchor="middle" fill="#1b1b1b">10</text>
<text transform="translate(84.40,187.40) scale(1.08,1)" font-size="12.8" text-anchor="middle" fill="#1b1b1b">20</text>
<text transform="translate(132.50,187.40) scale(1.08,1)" font-size="12.8" text-anchor="middle" fill="#1b1b1b">30</text>
<text transform="translate(180.60,187.40) scale(1.08,1)" font-size="12.8" text-anchor="middle" fill="#1b1b1b">40</text>
<text transform="translate(31.00,175.10) scale(1.08,1)" font-size="12.8" text-anchor="end" fill="#1b1b1b">0</text>
<text transform="translate(31.00,129.98) scale(1.08,1)" font-size="12.8" text-anchor="end" fill="#1b1b1b">4</text>
<text transform="translate(31.00,84.86) scale(1.08,1)" font-size="12.8" text-anchor="end" fill="#1b1b1b">8</text>
<text transform="translate(31.00,39.74) scale(1.08,1)" font-size="12.8" text-anchor="end" fill="#1b1b1b">12</text>
<text x="68.80" y="197.60" font-size="13" letter-spacing="0.67" text-anchor="start" fill="#1b1b1b">2Theta (degree)</text>
<text transform="translate(12.30,176.20) rotate(-90)" font-size="13" letter-spacing="0.64" fill="#1b1b1b">Intensity (X10<tspan font-size="8" dy="-5.2">3</tspan><tspan dy="5.2"> counts)</tspan></text>
<text x="142.60" y="35.10" font-size="10" letter-spacing="-0.08" text-anchor="start" fill="#1b1b1b">Wetting time (s)</text>
<line x1="148.60" y1="42.50" x2="164.20" y2="42.50" stroke="#1e1e1e" stroke-width="1.5"/>
<text x="174.80" y="45.90" font-size="9.5" letter-spacing="0.00" text-anchor="middle" fill="#1b1b1b">0</text>
<line x1="148.60" y1="55.60" x2="164.20" y2="55.60" stroke="#e0343e" stroke-width="1.5"/>
<text x="174.80" y="59.00" font-size="9.5" letter-spacing="0.00" text-anchor="middle" fill="#1b1b1b">3</text>
<line x1="148.60" y1="69.20" x2="164.20" y2="69.20" stroke="#3659c2" stroke-width="1.5"/>
<text x="174.80" y="72.60" font-size="9.5" letter-spacing="0.00" text-anchor="middle" fill="#1b1b1b">5</text>
<line x1="148.60" y1="82.60" x2="164.20" y2="82.60" stroke="#38ae60" stroke-width="1.5"/>
<text x="174.80" y="86.00" font-size="9.5" letter-spacing="0.00" text-anchor="middle" fill="#1b1b1b">7</text>
<text transform="translate(54.56,52.75) rotate(-90)" x="0.28" font-size="8" letter-spacing="0.55" text-anchor="middle" fill="#222" style="stroke-width:0.12px;stroke:#222">(110)</text>
<text transform="translate(82.56,131.20) rotate(-90)" x="0.28" font-size="8" letter-spacing="0.55" text-anchor="middle" fill="#222" style="stroke-width:0.12px;stroke:#222">(200)</text>
<text transform="translate(94.36,121.90) rotate(-90)" x="0.28" font-size="8" letter-spacing="0.55" text-anchor="middle" fill="#222" style="stroke-width:0.12px;stroke:#222">(211)</text>
<text transform="translate(108.66,125.80) rotate(-90)" x="0.28" font-size="8" letter-spacing="0.55" text-anchor="middle" fill="#222" style="stroke-width:0.12px;stroke:#222">(202)</text>
<text transform="translate(139.56,73.30) rotate(-90)" x="0.28" font-size="8" letter-spacing="0.55" text-anchor="middle" fill="#222" style="stroke-width:0.12px;stroke:#222">(222)</text>
<text transform="translate(148.76,130.00) rotate(-90)" x="0.28" font-size="8" letter-spacing="0.55" text-anchor="middle" fill="#222" style="stroke-width:0.12px;stroke:#222">(204)</text>
<text transform="translate(157.16,111.70) rotate(-90)" x="0.28" font-size="8" letter-spacing="0.55" text-anchor="middle" fill="#222" style="stroke-width:0.12px;stroke:#222">(312)</text>
<text transform="translate(165.36,147.40) rotate(-90)" x="0.28" font-size="8" letter-spacing="0.55" text-anchor="middle" fill="#222" style="stroke-width:0.12px;stroke:#222">(321)</text>
<text transform="translate(174.36,133.00) rotate(-90)" x="0.28" font-size="8" letter-spacing="0.55" text-anchor="middle" fill="#222" style="stroke-width:0.12px;stroke:#222">(224)</text>
<text transform="translate(183.96,118.00) rotate(-90)" x="0.28" font-size="8" letter-spacing="0.55" text-anchor="middle" fill="#222" style="stroke-width:0.12px;stroke:#222">(400)</text>
<text transform="translate(189.16,138.30) rotate(-90)" x="0.28" font-size="8" letter-spacing="0.55" text-anchor="middle" fill="#222" style="stroke-width:0.12px;stroke:#222">(411)</text>
<text transform="translate(196.26,133.90) rotate(-90)" x="0.28" font-size="8" letter-spacing="0.55" text-anchor="middle" fill="#222" style="stroke-width:0.12px;stroke:#222">(402)</text>
<text transform="translate(205.56,150.60) rotate(-90)" x="0.28" font-size="8" letter-spacing="0.55" text-anchor="middle" fill="#222" style="stroke-width:0.12px;stroke:#222">(420)</text>
<text transform="translate(213.36,146.90) rotate(-90)" x="0.28" font-size="8" letter-spacing="0.55" text-anchor="middle" fill="#222" style="stroke-width:0.12px;stroke:#222">(413)</text>
<text x="122.00" y="32.31" font-size="8" letter-spacing="0.6" text-anchor="middle" fill="#222" style="stroke-width:0.12px;stroke:#222">(220)</text>
<text x="309.90" y="12.30" font-size="16" letter-spacing="-0.37" text-anchor="start" fill="#1b1b1b">(b)</text>
<polyline points="348.6,161.9 349.5,161.7 351.4,162.0 353.2,162.0 355.1,162.2 357.0,162.0 358.8,161.6 360.7,161.8 362.5,161.6 364.4,161.7 366.3,161.6 368.1,161.5 370.0,161.8 371.8,160.9 373.7,160.7 375.5,160.4 377.4,160.6 379.3,160.2 381.1,159.4 383.0,158.4 384.8,156.6 386.7,153.5 388.5,147.0 390.4,136.7 392.3,121.2 394.1,104.2 396.0,90.6 397.8,84.6 399.7,90.4 401.6,104.2 403.4,121.8 405.3,137.1 407.1,147.8 409.0,154.1 410.8,157.2 412.7,158.9 414.6,159.9 416.4,160.6 418.3,160.9 420.1,160.8 422.0,161.7 423.8,161.7 425.7,161.9 427.6,162.5 429.4,162.2 431.3,162.0 433.1,162.9 435.0,162.5 436.9,162.5 438.7,162.7 440.6,162.3 441.5,162.5 441.5,162.6 441.5,141.5 441.5,157.1 442.0,157.7 442.3,157.1 443.5,157.1 444.8,156.9 446.0,156.8 447.2,157.0 448.5,157.0 449.7,157.4 450.9,156.8 452.2,157.1 453.4,157.0 454.6,157.2 455.9,157.1 457.1,156.9 458.3,156.4 459.6,157.2 460.8,157.0 462.0,156.5 463.3,156.1 464.5,156.3 465.7,157.0 466.9,157.1 468.2,156.2 469.4,156.4 470.6,156.4 471.9,155.7 473.1,155.6 474.3,155.6 475.6,155.3 476.8,154.9 478.0,154.1 479.3,153.7 480.5,153.0 481.7,152.1 483.0,151.5 484.2,149.3 485.4,147.4 486.7,144.1 487.9,138.5 489.1,127.0 490.4,108.8 491.6,85.1 492.8,57.9 494.1,36.3 495.3,28.8 496.5,36.3 497.7,58.2 499.0,85.3 500.2,109.8 501.4,127.8 502.7,139.2 503.9,145.3 505.1,149.2 506.4,151.3 507.6,152.3 508.8,153.7 510.1,154.8 511.3,155.0 512.5,155.4 513.8,156.4 515.0,157.0 516.2,156.9 517.5,157.0 518.7,157.2 519.9,156.8 521.2,157.5 522.4,156.9 523.6,157.6 524.9,157.5 526.1,157.1 527.3,157.0 528.5,157.1 529.8,157.2 531.0,157.3 532.2,157.3 533.5,157.1 534.4,157.4" fill="none" stroke="#1e1e1e" stroke-width="1.3" stroke-linejoin="round"/>
<polyline points="348.6,161.8 349.9,161.7 351.8,161.9 353.6,161.7 355.5,161.8 357.3,161.4 359.2,161.9 361.0,162.0 362.9,162.0 364.8,161.8 366.6,161.5 368.5,161.7 370.3,161.4 372.2,160.8 374.1,161.9 375.9,161.2 377.8,160.5 379.6,160.1 381.5,159.7 383.3,159.4 385.2,158.4 387.1,157.2 388.9,154.8 390.8,148.2 392.6,137.9 394.5,121.1 396.4,100.4 398.2,82.7 400.1,75.7 401.9,83.6 403.8,100.7 405.6,121.1 407.5,138.8 409.4,149.5 411.2,155.0 413.1,157.8 414.9,158.9 416.8,160.5 418.6,160.7 420.5,161.2 422.4,161.3 424.2,161.4 426.1,162.7 427.9,161.8 429.8,162.7 431.7,162.1 433.5,162.8 435.4,162.4 437.2,162.1 439.1,162.5 440.9,162.4 441.5,162.3 441.5,162.6 441.5,141.5 441.5,157.1 442.0,157.8 442.5,157.9 443.7,157.4 445.0,157.5 446.2,157.8 447.4,156.9 448.7,157.9 449.9,157.3 451.1,157.6 452.3,157.4 453.6,157.2 454.8,157.3 456.0,157.2 457.3,157.7 458.5,157.7 459.7,157.0 461.0,157.4 462.2,157.4 463.4,157.5 464.7,156.7 465.9,156.8 467.1,156.5 468.4,157.1 469.6,156.8 470.8,157.0 472.1,156.4 473.3,156.1 474.5,156.6 475.8,155.7 477.0,155.6 478.2,155.6 479.5,155.7 480.7,154.3 481.9,154.1 483.1,153.5 484.4,152.3 485.6,151.0 486.8,148.4 488.1,145.0 489.3,137.4 490.5,126.4 491.8,111.8 493.0,96.5 494.2,84.3 495.5,79.2 496.7,84.3 497.9,96.9 499.2,112.4 500.4,127.7 501.6,139.5 502.9,146.2 504.1,150.7 505.3,152.3 506.6,153.8 507.8,155.0 509.0,155.5 510.3,155.8 511.5,156.5 512.7,156.5 513.9,157.2 515.2,157.1 516.4,157.1 517.6,157.2 518.9,157.9 520.1,157.5 521.3,158.3 522.6,158.1 523.8,158.4 525.0,157.5 526.3,158.2 527.5,157.9 528.7,157.9 530.0,157.9 531.2,158.0 532.4,157.8 533.7,157.4 534.4,157.8" fill="none" stroke="#e0343e" stroke-width="1.3" stroke-linejoin="round"/>
<polyline points="348.6,161.7 349.5,161.6 351.4,162.0 353.2,162.3 355.1,162.1 357.0,161.7 358.8,162.4 360.7,162.1 362.5,161.6 364.4,161.6 366.3,161.7 368.1,161.4 370.0,161.4 371.8,161.6 373.7,161.4 375.5,160.9 377.4,160.0 379.3,160.0 381.1,159.5 383.0,158.8 384.8,158.0 386.7,155.7 388.5,152.1 390.4,143.7 392.3,130.1 394.1,107.8 396.0,82.9 397.8,62.2 399.7,53.2 401.6,61.9 403.4,83.6 405.3,108.5 407.1,129.8 409.0,144.6 410.8,152.3 412.7,156.2 414.6,158.1 416.4,159.2 418.3,159.6 420.1,160.4 422.0,161.0 423.8,162.1 425.7,161.5 427.6,161.6 429.4,162.2 431.3,162.4 433.1,161.8 435.0,162.9 436.9,162.3 438.7,161.8 440.6,162.7 441.5,162.3 441.5,162.6 441.5,140.4 441.5,157.1 442.0,157.1 442.4,157.7 443.6,157.4 444.8,157.3 446.1,157.7 447.3,157.5 448.5,157.3 449.8,157.1 451.0,157.3 452.2,157.3 453.5,157.5 454.7,157.3 455.9,156.9 457.2,157.1 458.4,157.3 459.6,157.2 460.8,156.2 462.1,156.6 463.3,156.7 464.5,157.5 465.8,156.6 467.0,156.6 468.2,156.2 469.5,156.5 470.7,156.5 471.9,156.2 473.2,156.8 474.4,155.8 475.6,155.8 476.9,155.7 478.1,154.8 479.3,154.1 480.6,154.4 481.8,153.5 483.0,152.3 484.3,151.2 485.5,149.7 486.7,147.1 488.0,141.2 489.2,132.7 490.4,119.0 491.6,99.6 492.9,77.4 494.1,60.5 495.3,53.8 496.6,60.8 497.8,78.5 499.0,99.8 500.3,120.2 501.5,134.3 502.7,143.1 504.0,148.1 505.2,151.2 506.4,152.8 507.7,153.7 508.9,154.6 510.1,155.3 511.4,155.9 512.6,156.5 513.8,156.6 515.1,157.0 516.3,157.5 517.5,157.6 518.8,157.5 520.0,157.6 521.2,157.5 522.4,157.6 523.7,157.6 524.9,157.7 526.1,158.0 527.4,157.5 528.6,157.3 529.8,157.5 531.1,157.7 532.3,157.5 533.5,157.9 534.4,158.2" fill="none" stroke="#3659c2" stroke-width="1.3" stroke-linejoin="round"/>
<polyline points="348.6,161.8 349.3,162.1 351.1,161.7 353.0,162.2 354.8,162.7 356.7,162.2 358.5,161.5 360.4,162.0 362.3,162.2 364.1,161.9 366.0,161.4 367.8,161.3 369.7,161.2 371.5,160.6 373.4,160.5 375.3,160.4 377.1,159.9 379.0,159.2 380.8,158.7 382.7,157.6 384.6,156.1 386.4,152.2 388.3,145.8 390.1,137.2 392.0,125.7 393.8,114.5 395.7,105.8 397.6,102.9 399.4,105.4 401.3,114.5 403.1,126.3 405.0,137.5 406.8,145.8 408.7,152.8 410.6,156.2 412.4,158.2 414.3,159.6 416.1,160.6 418.0,160.6 419.9,160.9 421.7,161.0 423.6,161.4 425.4,161.8 427.3,161.8 429.1,162.0 431.0,162.2 432.9,162.3 434.7,162.4 436.6,162.2 438.4,162.7 440.3,162.6 441.5,162.5 441.5,162.6 441.5,141.5 441.5,157.1 442.0,156.8 442.1,156.5 443.4,156.9 444.6,156.5 445.8,156.1 447.1,156.1 448.3,156.2 449.5,156.2 450.7,156.5 452.0,155.5 453.2,155.9 454.4,155.7 455.7,156.2 456.9,155.9 458.1,156.3 459.4,155.6 460.6,155.5 461.8,156.2 463.1,155.7 464.3,155.4 465.5,156.0 466.8,156.0 468.0,155.7 469.2,155.5 470.5,155.6 471.7,155.1 472.9,154.9 474.2,154.6 475.4,154.3 476.6,153.8 477.9,153.4 479.1,153.6 480.3,152.7 481.5,152.1 482.8,151.2 484.0,149.7 485.2,147.9 486.5,144.8 487.7,140.0 488.9,130.6 490.2,116.2 491.4,97.7 492.6,78.1 493.9,62.6 495.1,57.1 496.3,62.7 497.6,78.3 498.8,98.3 500.0,117.2 501.3,131.5 502.5,141.5 503.7,146.5 505.0,149.3 506.2,151.6 507.4,152.3 508.7,153.2 509.9,154.4 511.1,154.6 512.3,155.1 513.6,155.3 514.8,155.5 516.0,155.9 517.3,156.3 518.5,156.2 519.7,156.3 521.0,156.1 522.2,156.3 523.4,156.6 524.7,156.8 525.9,156.5 527.1,156.6 528.4,156.7 529.6,156.4 530.8,156.5 532.1,156.4 533.3,156.3 534.4,156.5" fill="none" stroke="#38ae60" stroke-width="1.3" stroke-linejoin="round"/>
<rect x="348.60" y="23.80" width="185.80" height="144.40" fill="none" stroke="#303030" stroke-width="1.5" stroke-linejoin="round"/>
<rect x="438.90" y="22.60" width="5.2" height="2.4" fill="#fff"/>
<line x1="438.10" y1="26.70" x2="441.40" y2="20.90" stroke="#3a3a3a" stroke-width="0.9"/>
<line x1="441.30" y1="26.70" x2="444.80" y2="20.90" stroke="#3a3a3a" stroke-width="0.9"/>
<rect x="438.90" y="167.00" width="5.2" height="2.4" fill="#fff"/>
<line x1="438.10" y1="171.10" x2="441.40" y2="165.30" stroke="#3a3a3a" stroke-width="0.9"/>
<line x1="441.30" y1="171.10" x2="444.80" y2="165.30" stroke="#3a3a3a" stroke-width="0.9"/>
<line x1="371.83" y1="168.20" x2="371.83" y2="166.00" stroke="#303030" stroke-width="1.0"/>
<line x1="395.05" y1="168.20" x2="395.05" y2="165.00" stroke="#303030" stroke-width="1.0"/>
<line x1="418.28" y1="168.20" x2="418.28" y2="166.00" stroke="#303030" stroke-width="1.0"/>
<line x1="457.40" y1="168.20" x2="457.40" y2="166.00" stroke="#303030" stroke-width="1.0"/>
<line x1="472.80" y1="168.20" x2="472.80" y2="165.40" stroke="#303030" stroke-width="1.0"/>
<line x1="488.20" y1="168.20" x2="488.20" y2="166.00" stroke="#303030" stroke-width="1.0"/>
<line x1="503.60" y1="168.20" x2="503.60" y2="165.40" stroke="#303030" stroke-width="1.0"/>
<line x1="519.00" y1="168.20" x2="519.00" y2="166.00" stroke="#303030" stroke-width="1.0"/>
<line x1="348.60" y1="145.96" x2="350.80" y2="145.96" stroke="#303030" stroke-width="1.0"/>
<line x1="348.60" y1="123.72" x2="351.40" y2="123.72" stroke="#303030" stroke-width="1.0"/>
<line x1="348.60" y1="101.48" x2="350.80" y2="101.48" stroke="#303030" stroke-width="1.0"/>
<line x1="348.60" y1="79.24" x2="351.40" y2="79.24" stroke="#303030" stroke-width="1.0"/>
<line x1="348.60" y1="57.00" x2="350.80" y2="57.00" stroke="#303030" stroke-width="1.0"/>
<line x1="348.60" y1="34.76" x2="351.40" y2="34.76" stroke="#303030" stroke-width="1.0"/>
<text transform="translate(348.60,186.00) scale(1.08,1)" font-size="12.8" text-anchor="middle" fill="#1b1b1b">13<tspan dx="0.3">.</tspan><tspan dx="0.8">0</tspan></text>
<text transform="translate(395.05,186.00) scale(1.08,1)" font-size="12.8" text-anchor="middle" fill="#1b1b1b">13<tspan dx="0.3">.</tspan><tspan dx="0.8">5</tspan></text>
<text transform="translate(442.00,186.00) scale(1.08,1)" font-size="12.8" text-anchor="middle" fill="#1b1b1b">27</text>
<text transform="translate(472.80,186.00) scale(1.08,1)" font-size="12.8" text-anchor="middle" fill="#1b1b1b">27<tspan dx="0.3">.</tspan><tspan dx="0.8">5</tspan></text>
<text transform="translate(503.60,186.00) scale(1.08,1)" font-size="12.8" text-anchor="middle" fill="#1b1b1b">28</text>
<text transform="translate(534.40,186.00) scale(1.08,1)" font-size="12.8" text-anchor="middle" fill="#1b1b1b">28<tspan dx="0.3">.</tspan><tspan dx="0.8">5</tspan></text>
<text transform="translate(344.30,172.60) scale(1.08,1)" font-size="12.8" text-anchor="end" fill="#1b1b1b">0</text>
<text transform="translate(344.30,128.12) scale(1.08,1)" font-size="12.8" text-anchor="end" fill="#1b1b1b">4</text>
<text transform="translate(344.30,83.64) scale(1.08,1)" font-size="12.8" text-anchor="end" fill="#1b1b1b">8</text>
<text transform="translate(344.30,39.16) scale(1.08,1)" font-size="12.8" text-anchor="end" fill="#1b1b1b">12</text>
<text x="395.80" y="197.50" font-size="13" letter-spacing="0.66" text-anchor="start" fill="#1b1b1b">2Theta (degree)</text>
<text transform="translate(325.00,176.10) rotate(-90)" font-size="13" letter-spacing="0.64" fill="#1b1b1b">Intensity (X10<tspan font-size="8" dy="-5.2">3</tspan><tspan dy="5.2"> counts)</tspan></text>
<text x="412.90" y="44.00" font-size="10" letter-spacing="-0.05" text-anchor="start" fill="#1b1b1b">Wetting time (s)</text>
<line x1="418.90" y1="51.00" x2="435.00" y2="51.00" stroke="#1e1e1e" stroke-width="1.5"/>
<text x="445.30" y="54.40" font-size="9.5" letter-spacing="0.00" text-anchor="middle" fill="#1b1b1b">0</text>
<line x1="418.90" y1="64.40" x2="435.00" y2="64.40" stroke="#e0343e" stroke-width="1.5"/>
<text x="445.30" y="67.80" font-size="9.5" letter-spacing="0.00" text-anchor="middle" fill="#1b1b1b">3</text>
<line x1="418.90" y1="78.00" x2="435.00" y2="78.00" stroke="#3659c2" stroke-width="1.5"/>
<text x="445.30" y="81.40" font-size="9.5" letter-spacing="0.00" text-anchor="middle" fill="#1b1b1b">5</text>
<line x1="418.90" y1="91.20" x2="435.00" y2="91.20" stroke="#38ae60" stroke-width="1.5"/>
<text x="445.30" y="94.60" font-size="9.5" letter-spacing="0.00" text-anchor="middle" fill="#1b1b1b">7</text>
<text x="388.04" y="49.61" font-size="8" letter-spacing="0.475" text-anchor="middle" fill="#222" style="stroke-width:0.12px;stroke:#222">(110)</text>
<text x="509.02" y="35.36" font-size="8" letter-spacing="0.55" text-anchor="middle" fill="#222" style="stroke-width:0.12px;stroke:#222">(220)</text>
<text x="0.60" y="216.30" font-size="16" letter-spacing="-0.18" text-anchor="start" fill="#1b1b1b">(c)</text>
<rect x="60.00" y="230.50" width="186.30" height="136.90" fill="none" stroke="#303030" stroke-width="1.5" stroke-linejoin="round"/>
<line x1="88.20" y1="367.40" x2="88.20" y2="365.20" stroke="#303030" stroke-width="1.0"/>
<line x1="114.20" y1="367.40" x2="114.20" y2="364.60" stroke="#303030" stroke-width="1.0"/>
<line x1="140.20" y1="367.40" x2="140.20" y2="365.20" stroke="#303030" stroke-width="1.0"/>
<line x1="166.20" y1="367.40" x2="166.20" y2="364.60" stroke="#303030" stroke-width="1.0"/>
<line x1="192.20" y1="367.40" x2="192.20" y2="365.20" stroke="#303030" stroke-width="1.0"/>
<line x1="218.20" y1="367.40" x2="218.20" y2="364.60" stroke="#303030" stroke-width="1.0"/>
<line x1="244.20" y1="367.40" x2="244.20" y2="365.20" stroke="#303030" stroke-width="1.0"/>
<line x1="60.00" y1="348.68" x2="62.80" y2="348.68" stroke="#303030" stroke-width="1.0"/>
<line x1="60.00" y1="329.00" x2="62.20" y2="329.00" stroke="#303030" stroke-width="1.0"/>
<line x1="60.00" y1="309.32" x2="62.80" y2="309.32" stroke="#303030" stroke-width="1.0"/>
<line x1="60.00" y1="289.64" x2="62.20" y2="289.64" stroke="#303030" stroke-width="1.0"/>
<line x1="60.00" y1="269.96" x2="62.80" y2="269.96" stroke="#303030" stroke-width="1.0"/>
<line x1="60.00" y1="250.28" x2="62.20" y2="250.28" stroke="#303030" stroke-width="1.0"/>
<line x1="246.30" y1="347.90" x2="244.10" y2="347.90" stroke="#303030" stroke-width="1.0"/>
<line x1="246.30" y1="328.20" x2="243.50" y2="328.20" stroke="#303030" stroke-width="1.0"/>
<line x1="246.30" y1="308.50" x2="244.10" y2="308.50" stroke="#303030" stroke-width="1.0"/>
<line x1="246.30" y1="288.80" x2="243.50" y2="288.80" stroke="#303030" stroke-width="1.0"/>
<line x1="246.30" y1="269.10" x2="244.10" y2="269.10" stroke="#303030" stroke-width="1.0"/>
<line x1="246.30" y1="249.40" x2="243.50" y2="249.40" stroke="#303030" stroke-width="1.0"/>
<text transform="translate(62.20,380.20) scale(1.08,1)" font-size="12.8" text-anchor="middle" fill="#1b1b1b">0</text>
<text transform="translate(114.20,380.20) scale(1.08,1)" font-size="12.8" text-anchor="middle" fill="#1b1b1b">2</text>
<text transform="translate(166.20,380.20) scale(1.08,1)" font-size="12.8" text-anchor="middle" fill="#1b1b1b">4</text>
<text transform="translate(218.20,380.20) scale(1.08,1)" font-size="12.8" text-anchor="middle" fill="#1b1b1b">6</text>
<text transform="translate(54.60,235.00) scale(1.08,1)" font-size="12.8" text-anchor="end" fill="#1b1b1b">13<tspan dx="0.3">.</tspan><tspan dx="0.8">56</tspan></text>
<text transform="translate(54.60,274.36) scale(1.08,1)" font-size="12.8" text-anchor="end" fill="#1b1b1b">13<tspan dx="0.3">.</tspan><tspan dx="0.8">55</tspan></text>
<text transform="translate(54.60,313.72) scale(1.08,1)" font-size="12.8" text-anchor="end" fill="#1b1b1b">13<tspan dx="0.3">.</tspan><tspan dx="0.8">54</tspan></text>
<text transform="translate(54.60,353.08) scale(1.08,1)" font-size="12.8" text-anchor="end" fill="#1b1b1b">13<tspan dx="0.3">.</tspan><tspan dx="0.8">53</tspan></text>
<text transform="translate(251.00,254.60) scale(1.08,1)" font-size="12.8" text-anchor="start" fill="#1b1b1b">0<tspan dx="0.3">.</tspan><tspan dx="0.8">14</tspan></text>
<text transform="translate(251.00,294.00) scale(1.08,1)" font-size="12.8" text-anchor="start" fill="#1b1b1b">0<tspan dx="0.3">.</tspan><tspan dx="0.8">13</tspan></text>
<text transform="translate(251.00,333.40) scale(1.08,1)" font-size="12.8" text-anchor="start" fill="#1b1b1b">0<tspan dx="0.3">.</tspan><tspan dx="0.8">12</tspan></text>
<text transform="translate(251.00,372.80) scale(1.08,1)" font-size="12.8" text-anchor="start" fill="#1b1b1b">0<tspan dx="0.3">.</tspan><tspan dx="0.8">11</tspan></text>
<text x="100.20" y="393.80" font-size="13" letter-spacing="0.50" text-anchor="start" fill="#1b1b1b">Wetting time (s)</text>
<text x="0.00" y="0.00" font-size="13" letter-spacing="0.65" text-anchor="start" fill="#1b1b1b" transform="translate(13.30,347.20) rotate(-90)">2Theta (degree)</text>
<text x="0.00" y="0.00" font-size="13" letter-spacing="0.61" text-anchor="start" fill="#1b1b1b" transform="translate(285.70,254.40) rotate(90)">FWHM (degree)</text>
<polyline points="62.2,348.7 140.2,253.4 192.2,253.4 244.2,356.2" fill="none" stroke="#1e1e1e" stroke-width="1.3" stroke-linejoin="round"/>
<polyline points="62.2,306.1 140.2,345.5 192.2,328.6 244.2,241.5" fill="none" stroke="#2a48a6" stroke-width="1.3" stroke-linejoin="round"/>
<circle cx="62.20" cy="348.68" r="2.3" fill="#1e1e1e"/>
<circle cx="140.20" cy="253.43" r="2.3" fill="#1e1e1e"/>
<circle cx="192.20" cy="253.43" r="2.3" fill="#1e1e1e"/>
<circle cx="244.20" cy="356.16" r="2.3" fill="#1e1e1e"/>
<path d="M59.60,304.44 L64.80,304.44 L62.20,309.04 Z" fill="#2a48a6"/>
<path d="M137.60,343.84 L142.80,343.84 L140.20,348.44 Z" fill="#2a48a6"/>
<path d="M189.60,326.89 L194.80,326.89 L192.20,331.49 Z" fill="#2a48a6"/>
<path d="M241.60,239.82 L246.80,239.82 L244.20,244.42 Z" fill="#2a48a6"/>
<line x1="62.80" y1="238.10" x2="70.40" y2="238.10" stroke="#1e1e1e" stroke-width="1.3"/>
<line x1="75.80" y1="238.10" x2="83.20" y2="238.10" stroke="#1e1e1e" stroke-width="1.3"/>
<circle cx="73.1" cy="238.1" r="2.2" fill="#1e1e1e"/>
<line x1="62.80" y1="254.20" x2="70.40" y2="254.20" stroke="#2a48a6" stroke-width="1.3"/>
<line x1="75.80" y1="254.20" x2="83.20" y2="254.20" stroke="#2a48a6" stroke-width="1.3"/>
<path d="M70.65,252.4 L75.55,252.4 L73.1,256.6 Z" fill="#2a48a6"/>
<text x="89.20" y="241.60" font-size="10" letter-spacing="0.62" text-anchor="start" fill="#1b1b1b">Peak position of (110)</text>
<text x="89.20" y="257.90" font-size="10" letter-spacing="1.00" text-anchor="start" fill="#1b1b1b">FWHM</text>
<text x="309.80" y="216.30" font-size="16" letter-spacing="-0.37" text-anchor="start" fill="#1b1b1b">(d)</text>
<rect x="357.40" y="230.40" width="186.50" height="137.00" fill="none" stroke="#303030" stroke-width="1.5" stroke-linejoin="round"/>
<line x1="385.96" y1="367.40" x2="385.96" y2="365.20" stroke="#303030" stroke-width="1.0"/>
<line x1="411.92" y1="367.40" x2="411.92" y2="364.60" stroke="#303030" stroke-width="1.0"/>
<line x1="437.88" y1="367.40" x2="437.88" y2="365.20" stroke="#303030" stroke-width="1.0"/>
<line x1="463.84" y1="367.40" x2="463.84" y2="364.60" stroke="#303030" stroke-width="1.0"/>
<line x1="489.80" y1="367.40" x2="489.80" y2="365.20" stroke="#303030" stroke-width="1.0"/>
<line x1="515.76" y1="367.40" x2="515.76" y2="364.60" stroke="#303030" stroke-width="1.0"/>
<line x1="541.72" y1="367.40" x2="541.72" y2="365.20" stroke="#303030" stroke-width="1.0"/>
<line x1="357.40" y1="350.27" x2="359.60" y2="350.27" stroke="#303030" stroke-width="1.0"/>
<line x1="357.40" y1="333.15" x2="359.60" y2="333.15" stroke="#303030" stroke-width="1.0"/>
<line x1="357.40" y1="316.02" x2="359.60" y2="316.02" stroke="#303030" stroke-width="1.0"/>
<line x1="357.40" y1="298.90" x2="360.20" y2="298.90" stroke="#303030" stroke-width="1.0"/>
<line x1="357.40" y1="281.77" x2="359.60" y2="281.77" stroke="#303030" stroke-width="1.0"/>
<line x1="357.40" y1="264.65" x2="359.60" y2="264.65" stroke="#303030" stroke-width="1.0"/>
<line x1="357.40" y1="247.52" x2="359.60" y2="247.52" stroke="#303030" stroke-width="1.0"/>
<text transform="translate(360.00,380.20) scale(1.08,1)" font-size="12.8" text-anchor="middle" fill="#1b1b1b">0</text>
<text transform="translate(411.92,380.20) scale(1.08,1)" font-size="12.8" text-anchor="middle" fill="#1b1b1b">2</text>
<text transform="translate(463.84,380.20) scale(1.08,1)" font-size="12.8" text-anchor="middle" fill="#1b1b1b">4</text>
<text transform="translate(515.76,380.20) scale(1.08,1)" font-size="12.8" text-anchor="middle" fill="#1b1b1b">6</text>
<text transform="translate(354.20,235.50) scale(1.08,1)" font-size="12.8" text-anchor="end" fill="#1b1b1b">1<tspan dx="0.3">.</tspan><tspan dx="0.8">75</tspan></text>
<text transform="translate(354.20,304.00) scale(1.08,1)" font-size="12.8" text-anchor="end" fill="#1b1b1b">1<tspan dx="0.3">.</tspan><tspan dx="0.8">25</tspan></text>
<text transform="translate(354.20,372.50) scale(1.08,1)" font-size="12.8" text-anchor="end" fill="#1b1b1b">0<tspan dx="0.3">.</tspan><tspan dx="0.8">75</tspan></text>
<text x="398.20" y="392.90" font-size="13" letter-spacing="0.54" text-anchor="start" fill="#1b1b1b">Wetting time (s)</text>
<text x="0.00" y="0.00" font-size="13" letter-spacing="0.65" text-anchor="start" fill="#1b1b1b" transform="translate(322.20,347.40) rotate(-90)">Intensity ratio</text>
<polyline points="360.0,243.1 437.9,344.4 489.8,338.8 541.7,240.1" fill="none" stroke="#1e1e1e" stroke-width="1.3" stroke-linejoin="round"/>
<circle cx="360.00" cy="243.14" r="2.3" fill="#1e1e1e"/>
<circle cx="437.88" cy="344.38" r="2.3" fill="#1e1e1e"/>
<circle cx="489.80" cy="338.77" r="2.3" fill="#1e1e1e"/>
<circle cx="541.72" cy="240.13" r="2.3" fill="#1e1e1e"/>
</g>
</svg></body></html>
